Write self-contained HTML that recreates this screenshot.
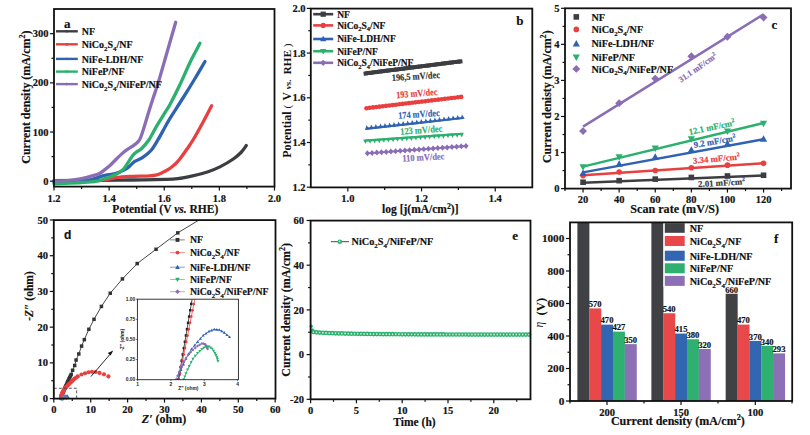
<!DOCTYPE html>
<html><head><meta charset="utf-8"><style>
html,body{margin:0;padding:0;background:#fff;width:810px;height:435px;overflow:hidden}
svg{display:block}
</style></head><body>
<svg width="810" height="435" viewBox="0 0 810 435">
<rect width="810" height="435" fill="#fff"/>
<path d="M54,180.6 C61.67,180.55 87.33,180.4 100,180.3 C112.67,180.2 119.2,180.15 130,180 C140.8,179.85 156.83,179.63 164.8,179.4 C172.77,179.17 173.17,179.2 177.8,178.6 C182.43,178 187.67,176.9 192.6,175.8 C197.53,174.7 202.77,173.53 207.4,172 C212.03,170.47 216.08,168.77 220.4,166.6 C224.72,164.43 229.87,161.35 233.3,159 C236.73,156.65 238.83,154.75 241,152.5 C243.17,150.25 245.42,146.67 246.3,145.5" fill="none" stroke="#3c3e42" stroke-width="3.3" stroke-linejoin="round" stroke-linecap="round" />
<path d="M103,179.9 C103.63,179.85 104.63,179.98 106.8,179.6 C108.97,179.22 112.13,178.13 116,177.6 C119.87,177.07 124.33,176.7 130,176.4 C135.67,176.1 145.4,176.1 150,175.8 C154.6,175.5 155.75,175.03 157.6,174.6 C159.45,174.17 159.78,173.8 161.1,173.2 C162.42,172.6 163.95,171.87 165.5,171 C167.05,170.13 168.82,169.12 170.4,168 C171.98,166.88 173.47,165.75 175,164.3 C176.53,162.85 177.6,161.85 179.6,159.3 C181.6,156.75 184.72,152.3 187,149 C189.28,145.7 190.58,144.05 193.3,139.5 C196.02,134.95 200.23,127.33 203.3,121.7 C206.37,116.07 210.3,108.37 211.7,105.7" fill="none" stroke="#e8403f" stroke-width="3.3" stroke-linejoin="round" stroke-linecap="round" />
<path d="M54,182.2 C58.33,182.1 73.67,182.05 80,181.6 C86.33,181.15 88.5,180.37 92,179.5 C95.5,178.63 98.35,177.18 101,176.4 C103.65,175.62 105.4,175.3 107.9,174.8 C110.4,174.3 113.5,174.1 116,173.4 C118.5,172.7 120.92,171.57 122.9,170.6 C124.88,169.63 125.92,169.13 127.9,167.6 C129.88,166.07 132.27,163.13 134.8,161.4 C137.33,159.67 140.33,159.1 143.1,157.2 C145.87,155.3 148.87,153 151.4,150 C153.93,147 156,143.07 158.3,139.2 C160.6,135.33 163.25,130.28 165.2,126.8 C167.15,123.32 166.98,123.18 170,118.3 C173.02,113.42 179.13,104.13 183.3,97.5 C187.47,90.87 191.38,84.5 195,78.5 C198.62,72.5 203.33,64.33 205,61.5" fill="none" stroke="#2f62b2" stroke-width="3.3" stroke-linejoin="round" stroke-linecap="round" />
<path d="M54,183.6 C56.67,183.53 64.47,183.45 70,183.2 C75.53,182.95 82.42,182.5 87.2,182.1 C91.98,181.7 95.82,181.38 98.7,180.8 C101.58,180.22 102.58,179.28 104.5,178.6 C106.42,177.92 107.9,177.6 110.2,176.7 C112.5,175.8 116,174.55 118.3,173.2 C120.6,171.85 122.47,170.23 124,168.6 C125.53,166.97 126.5,164.9 127.5,163.4 C128.5,161.9 129.02,161.07 130,159.6 C130.98,158.13 132.23,155.93 133.4,154.6 C134.57,153.27 135.62,152.62 137,151.6 C138.38,150.58 139.77,150.38 141.7,148.5 C143.63,146.62 146.3,143.68 148.6,140.3 C150.9,136.92 153.2,132.12 155.5,128.2 C157.8,124.28 160.55,119.83 162.4,116.8 C164.25,113.77 165.33,112.05 166.6,110 C167.87,107.95 167.77,108.75 170,104.5 C172.23,100.25 176.67,91.5 180,84.5 C183.33,77.5 186.67,69.37 190,62.5 C193.33,55.63 198.33,46.5 200,43.3" fill="none" stroke="#2bb06d" stroke-width="3.3" stroke-linejoin="round" stroke-linecap="round" />
<path d="M54,181 C56.67,180.88 65.42,180.7 70,180.3 C74.58,179.9 77.67,179.37 81.5,178.6 C85.33,177.83 89.93,176.6 93,175.7 C96.07,174.8 97.98,174.17 99.9,173.2 C101.82,172.23 102.78,171.23 104.5,169.9 C106.22,168.57 108.28,166.93 110.2,165.2 C112.12,163.47 114.08,161.38 116,159.5 C117.92,157.62 120.03,155.43 121.7,153.9 C123.37,152.37 124.5,151.4 126,150.3 C127.5,149.2 129,148.42 130.7,147.3 C132.4,146.18 134.7,144.9 136.2,143.6 C137.7,142.3 138.67,141.35 139.7,139.5 C140.73,137.65 141.37,135.55 142.4,132.5 C143.43,129.45 144.75,124.95 145.9,121.2 C147.05,117.45 148.12,113.78 149.3,110 C150.48,106.22 151.5,103.08 153,98.5 C154.5,93.92 156.02,90 158.3,82.5 C160.58,75 163.8,63.53 166.7,53.5 C169.6,43.47 174.2,27.5 175.7,22.3" fill="none" stroke="#8b6db5" stroke-width="3.3" stroke-linejoin="round" stroke-linecap="round" />
<rect x="54" y="9" width="220.5" height="177.6" fill="none" stroke="#111" stroke-width="1.8"/>
<line x1="50" y1="181.2" x2="54" y2="181.2" stroke="#111" stroke-width="1.2" />
<line x1="50" y1="132.03" x2="54" y2="132.03" stroke="#111" stroke-width="1.2" />
<line x1="50" y1="82.86" x2="54" y2="82.86" stroke="#111" stroke-width="1.2" />
<line x1="50" y1="33.69" x2="54" y2="33.69" stroke="#111" stroke-width="1.2" />
<line x1="51.5" y1="156.61" x2="54" y2="156.61" stroke="#111" stroke-width="1.2" />
<line x1="51.5" y1="107.44" x2="54" y2="107.44" stroke="#111" stroke-width="1.2" />
<line x1="51.5" y1="58.27" x2="54" y2="58.27" stroke="#111" stroke-width="1.2" />
<line x1="54" y1="186.6" x2="54" y2="190.6" stroke="#111" stroke-width="1.2" />
<line x1="109.12" y1="186.6" x2="109.12" y2="190.6" stroke="#111" stroke-width="1.2" />
<line x1="164.24" y1="186.6" x2="164.24" y2="190.6" stroke="#111" stroke-width="1.2" />
<line x1="219.36" y1="186.6" x2="219.36" y2="190.6" stroke="#111" stroke-width="1.2" />
<line x1="274.48" y1="186.6" x2="274.48" y2="190.6" stroke="#111" stroke-width="1.2" />
<line x1="81.56" y1="186.6" x2="81.56" y2="189.1" stroke="#111" stroke-width="1.2" />
<line x1="136.68" y1="186.6" x2="136.68" y2="189.1" stroke="#111" stroke-width="1.2" />
<line x1="191.8" y1="186.6" x2="191.8" y2="189.1" stroke="#111" stroke-width="1.2" />
<line x1="246.92" y1="186.6" x2="246.92" y2="189.1" stroke="#111" stroke-width="1.2" />
<text x="48.5" y="184.8" font-size="10.5" font-family='"Liberation Serif", serif' font-weight="bold" fill="#111" text-anchor="end"  stroke="#111" stroke-width="0.18">0</text>
<text x="48.5" y="135.63" font-size="10.5" font-family='"Liberation Serif", serif' font-weight="bold" fill="#111" text-anchor="end"  stroke="#111" stroke-width="0.18">100</text>
<text x="48.5" y="86.46" font-size="10.5" font-family='"Liberation Serif", serif' font-weight="bold" fill="#111" text-anchor="end"  stroke="#111" stroke-width="0.18">200</text>
<text x="48.5" y="37.29" font-size="10.5" font-family='"Liberation Serif", serif' font-weight="bold" fill="#111" text-anchor="end"  stroke="#111" stroke-width="0.18">300</text>
<text x="54" y="202.2" font-size="10.5" font-family='"Liberation Serif", serif' font-weight="bold" fill="#111" text-anchor="middle"  stroke="#111" stroke-width="0.18">1.2</text>
<text x="109.12" y="202.2" font-size="10.5" font-family='"Liberation Serif", serif' font-weight="bold" fill="#111" text-anchor="middle"  stroke="#111" stroke-width="0.18">1.4</text>
<text x="164.24" y="202.2" font-size="10.5" font-family='"Liberation Serif", serif' font-weight="bold" fill="#111" text-anchor="middle"  stroke="#111" stroke-width="0.18">1.6</text>
<text x="219.36" y="202.2" font-size="10.5" font-family='"Liberation Serif", serif' font-weight="bold" fill="#111" text-anchor="middle"  stroke="#111" stroke-width="0.18">1.8</text>
<text x="274.48" y="202.2" font-size="10.5" font-family='"Liberation Serif", serif' font-weight="bold" fill="#111" text-anchor="middle"  stroke="#111" stroke-width="0.18">2.0</text>
<text x="165.3" y="213.2" font-size="11.5" font-family='"Liberation Serif", serif' font-weight="bold" fill="#111" text-anchor="middle"  stroke="#111" stroke-width="0.18">Potential (V <tspan font-style="italic" font-weight="bold">vs.</tspan> RHE)</text>
<text x="29.8" y="97.1" font-size="11.95" font-family='"Liberation Serif", serif' font-weight="bold" fill="#111" text-anchor="middle" transform="rotate(-90 29.8 97.1)"  stroke="#111" stroke-width="0.18">Current density (mA/cm<tspan font-size="8.13" dy="-4.54">2</tspan><tspan dy="4.54">)</tspan></text>
<text x="64" y="28.3" font-size="13" font-family='"Liberation Serif", serif' font-weight="bold" fill="#111" text-anchor="start"  stroke="#111" stroke-width="0.18">a</text>
<line x1="56" y1="31.3" x2="77.8" y2="31.3" stroke="#3c3e42" stroke-width="2.4" />
<circle cx="66.8" cy="31.3" r="1.3" fill="#3c3e42"/>
<text x="81.8" y="34.9" font-size="10" font-family='"Liberation Serif", serif' font-weight="bold" fill="#111" text-anchor="start"  stroke="#111" stroke-width="0.18">NF</text>
<line x1="56" y1="44.3" x2="77.8" y2="44.3" stroke="#e8403f" stroke-width="2.4" />
<rect x="65.5" y="43" width="2.6" height="2.6" fill="#e8403f"/>
<text x="81.8" y="47.9" font-size="10" font-family='"Liberation Serif", serif' font-weight="bold" fill="#111" text-anchor="start"  stroke="#111" stroke-width="0.18">NiCo<tspan font-size="6.8" dy="2.8">2</tspan><tspan dy="-2.8">S</tspan><tspan font-size="6.8" dy="2.8">4</tspan><tspan dy="-2.8">/NF</tspan></text>
<line x1="56" y1="58.9" x2="77.8" y2="58.9" stroke="#2f62b2" stroke-width="2.4" />
<polygon points="66.8,57.22 65.24,60.02 68.36,60.02" fill="#2f62b2"/>
<text x="81.8" y="62.5" font-size="10" font-family='"Liberation Serif", serif' font-weight="bold" fill="#111" text-anchor="start"  stroke="#111" stroke-width="0.18">NiFe-LDH/NF</text>
<line x1="56" y1="71.6" x2="77.8" y2="71.6" stroke="#2bb06d" stroke-width="2.4" />
<polygon points="66.8,73.28 65.24,70.48 68.36,70.48" fill="#2bb06d"/>
<text x="81.8" y="75.2" font-size="10" font-family='"Liberation Serif", serif' font-weight="bold" fill="#111" text-anchor="start"  stroke="#111" stroke-width="0.18">NiFeP/NF</text>
<line x1="56" y1="84.1" x2="77.8" y2="84.1" stroke="#8b6db5" stroke-width="2.4" />
<polygon points="66.8,82.54 68.36,84.1 66.8,85.66 65.24,84.1" fill="#8b6db5"/>
<text x="81.8" y="87.7" font-size="10" font-family='"Liberation Serif", serif' font-weight="bold" fill="#111" text-anchor="start"  stroke="#111" stroke-width="0.18">NiCo<tspan font-size="6.8" dy="2.8">2</tspan><tspan dy="-2.8">S</tspan><tspan font-size="6.8" dy="2.8">4</tspan><tspan dy="-2.8">/NiFeP/NF</tspan></text>
<line x1="365.6" y1="73.4" x2="460.4" y2="61.4" stroke="#3c3e42" stroke-width="3.6" stroke-linecap="round"/>
<polygon points="363.36,71.67 367.33,71.16 367.84,75.13 363.87,75.64" fill="#3c3e42"/>
<polygon points="366.24,71.3 370.21,70.8 370.71,74.77 366.74,75.27" fill="#3c3e42"/>
<polygon points="369.11,70.94 373.08,70.44 373.58,74.41 369.61,74.91" fill="#3c3e42"/>
<polygon points="371.98,70.58 375.95,70.07 376.45,74.04 372.49,74.54" fill="#3c3e42"/>
<polygon points="374.86,70.21 378.82,69.71 379.33,73.68 375.36,74.18" fill="#3c3e42"/>
<polygon points="377.73,69.85 381.7,69.35 382.2,73.31 378.23,73.82" fill="#3c3e42"/>
<polygon points="380.6,69.49 384.57,68.98 385.07,72.95 381.1,73.45" fill="#3c3e42"/>
<polygon points="383.47,69.12 387.44,68.62 387.94,72.59 383.98,73.09" fill="#3c3e42"/>
<polygon points="386.35,68.76 390.31,68.26 390.82,72.22 386.85,72.73" fill="#3c3e42"/>
<polygon points="389.22,68.39 393.19,67.89 393.69,71.86 389.72,72.36" fill="#3c3e42"/>
<polygon points="392.09,68.03 396.06,67.53 396.56,71.5 392.59,72" fill="#3c3e42"/>
<polygon points="394.96,67.67 398.93,67.16 399.44,71.13 395.47,71.64" fill="#3c3e42"/>
<polygon points="397.84,67.3 401.81,66.8 402.31,70.77 398.34,71.27" fill="#3c3e42"/>
<polygon points="400.71,66.94 404.68,66.44 405.18,70.41 401.21,70.91" fill="#3c3e42"/>
<polygon points="403.58,66.58 407.55,66.07 408.05,70.04 404.09,70.54" fill="#3c3e42"/>
<polygon points="406.46,66.21 410.42,65.71 410.93,69.68 406.96,70.18" fill="#3c3e42"/>
<polygon points="409.33,65.85 413.3,65.35 413.8,69.31 409.83,69.82" fill="#3c3e42"/>
<polygon points="412.2,65.49 416.17,64.98 416.67,68.95 412.7,69.45" fill="#3c3e42"/>
<polygon points="415.07,65.12 419.04,64.62 419.54,68.59 415.58,69.09" fill="#3c3e42"/>
<polygon points="417.95,64.76 421.91,64.26 422.42,68.22 418.45,68.73" fill="#3c3e42"/>
<polygon points="420.82,64.39 424.79,63.89 425.29,67.86 421.32,68.36" fill="#3c3e42"/>
<polygon points="423.69,64.03 427.66,63.53 428.16,67.5 424.19,68" fill="#3c3e42"/>
<polygon points="426.56,63.67 430.53,63.16 431.04,67.13 427.07,67.64" fill="#3c3e42"/>
<polygon points="429.44,63.3 433.41,62.8 433.91,66.77 429.94,67.27" fill="#3c3e42"/>
<polygon points="432.31,62.94 436.28,62.44 436.78,66.41 432.81,66.91" fill="#3c3e42"/>
<polygon points="435.18,62.58 439.15,62.07 439.65,66.04 435.69,66.54" fill="#3c3e42"/>
<polygon points="438.06,62.21 442.02,61.71 442.53,65.68 438.56,66.18" fill="#3c3e42"/>
<polygon points="440.93,61.85 444.9,61.35 445.4,65.31 441.43,65.82" fill="#3c3e42"/>
<polygon points="443.8,61.49 447.77,60.98 448.27,64.95 444.3,65.45" fill="#3c3e42"/>
<polygon points="446.67,61.12 450.64,60.62 451.14,64.59 447.18,65.09" fill="#3c3e42"/>
<polygon points="449.55,60.76 453.51,60.26 454.02,64.22 450.05,64.73" fill="#3c3e42"/>
<polygon points="452.42,60.39 456.39,59.89 456.89,63.86 452.92,64.36" fill="#3c3e42"/>
<polygon points="455.29,60.03 459.26,59.53 459.76,63.5 455.79,64" fill="#3c3e42"/>
<polygon points="458.16,59.67 462.13,59.16 462.64,63.13 458.67,63.64" fill="#3c3e42"/>
<line x1="366.5" y1="108.2" x2="461.2" y2="96.9" stroke="#e8403f" stroke-width="2.6" stroke-linecap="round"/>
<circle cx="366.5" cy="108.2" r="2.3" fill="#e8403f"/>
<circle cx="369.77" cy="107.81" r="2.3" fill="#e8403f"/>
<circle cx="373.03" cy="107.42" r="2.3" fill="#e8403f"/>
<circle cx="376.3" cy="107.03" r="2.3" fill="#e8403f"/>
<circle cx="379.56" cy="106.64" r="2.3" fill="#e8403f"/>
<circle cx="382.83" cy="106.25" r="2.3" fill="#e8403f"/>
<circle cx="386.09" cy="105.86" r="2.3" fill="#e8403f"/>
<circle cx="389.36" cy="105.47" r="2.3" fill="#e8403f"/>
<circle cx="392.62" cy="105.08" r="2.3" fill="#e8403f"/>
<circle cx="395.89" cy="104.69" r="2.3" fill="#e8403f"/>
<circle cx="399.16" cy="104.3" r="2.3" fill="#e8403f"/>
<circle cx="402.42" cy="103.91" r="2.3" fill="#e8403f"/>
<circle cx="405.69" cy="103.52" r="2.3" fill="#e8403f"/>
<circle cx="408.95" cy="103.13" r="2.3" fill="#e8403f"/>
<circle cx="412.22" cy="102.74" r="2.3" fill="#e8403f"/>
<circle cx="415.48" cy="102.36" r="2.3" fill="#e8403f"/>
<circle cx="418.75" cy="101.97" r="2.3" fill="#e8403f"/>
<circle cx="422.01" cy="101.58" r="2.3" fill="#e8403f"/>
<circle cx="425.28" cy="101.19" r="2.3" fill="#e8403f"/>
<circle cx="428.54" cy="100.8" r="2.3" fill="#e8403f"/>
<circle cx="431.81" cy="100.41" r="2.3" fill="#e8403f"/>
<circle cx="435.08" cy="100.02" r="2.3" fill="#e8403f"/>
<circle cx="438.34" cy="99.63" r="2.3" fill="#e8403f"/>
<circle cx="441.61" cy="99.24" r="2.3" fill="#e8403f"/>
<circle cx="444.87" cy="98.85" r="2.3" fill="#e8403f"/>
<circle cx="448.14" cy="98.46" r="2.3" fill="#e8403f"/>
<circle cx="451.4" cy="98.07" r="2.3" fill="#e8403f"/>
<circle cx="454.67" cy="97.68" r="2.3" fill="#e8403f"/>
<circle cx="457.93" cy="97.29" r="2.3" fill="#e8403f"/>
<circle cx="461.2" cy="96.9" r="2.3" fill="#e8403f"/>
<line x1="367" y1="128.6" x2="462.4" y2="118" stroke="#2f62b2" stroke-width="2.2" stroke-linecap="round"/>
<polygon points="366.61,125.12 369.31,129.45 364.93,129.94" fill="#2f62b2"/>
<polygon points="371.16,124.62 373.85,128.95 369.48,129.43" fill="#2f62b2"/>
<polygon points="375.7,124.11 378.39,128.44 374.02,128.93" fill="#2f62b2"/>
<polygon points="380.24,123.61 382.94,127.94 378.56,128.42" fill="#2f62b2"/>
<polygon points="384.78,123.1 387.48,127.43 383.11,127.92" fill="#2f62b2"/>
<polygon points="389.33,122.6 392.02,126.93 387.65,127.41" fill="#2f62b2"/>
<polygon points="393.87,122.09 396.57,126.42 392.19,126.91" fill="#2f62b2"/>
<polygon points="398.41,121.59 401.11,125.92 396.73,126.4" fill="#2f62b2"/>
<polygon points="402.96,121.08 405.65,125.41 401.28,125.9" fill="#2f62b2"/>
<polygon points="407.5,120.58 410.19,124.91 405.82,125.39" fill="#2f62b2"/>
<polygon points="412.04,120.07 414.74,124.4 410.36,124.89" fill="#2f62b2"/>
<polygon points="416.58,119.57 419.28,123.9 414.91,124.38" fill="#2f62b2"/>
<polygon points="421.13,119.06 423.82,123.39 419.45,123.88" fill="#2f62b2"/>
<polygon points="425.67,118.56 428.37,122.89 423.99,123.37" fill="#2f62b2"/>
<polygon points="430.21,118.05 432.91,122.38 428.53,122.87" fill="#2f62b2"/>
<polygon points="434.76,117.55 437.45,121.88 433.08,122.36" fill="#2f62b2"/>
<polygon points="439.3,117.05 441.99,121.37 437.62,121.86" fill="#2f62b2"/>
<polygon points="443.84,116.54 446.54,120.87 442.16,121.36" fill="#2f62b2"/>
<polygon points="448.38,116.04 451.08,120.36 446.71,120.85" fill="#2f62b2"/>
<polygon points="452.93,115.53 455.62,119.86 451.25,120.35" fill="#2f62b2"/>
<polygon points="457.47,115.03 460.17,119.36 455.79,119.84" fill="#2f62b2"/>
<polygon points="462.01,114.52 464.71,118.85 460.33,119.34" fill="#2f62b2"/>
<line x1="365.4" y1="140.6" x2="461.6" y2="133.9" stroke="#2bb06d" stroke-width="2.2" stroke-linecap="round"/>
<polygon points="365.64,144.09 367.52,139.35 363.13,139.66" fill="#2bb06d"/>
<polygon points="370.22,143.77 372.1,139.03 367.71,139.34" fill="#2bb06d"/>
<polygon points="374.81,143.45 376.68,138.71 372.29,139.02" fill="#2bb06d"/>
<polygon points="379.39,143.13 381.26,138.39 376.87,138.7" fill="#2bb06d"/>
<polygon points="383.97,142.82 385.84,138.07 381.45,138.38" fill="#2bb06d"/>
<polygon points="388.55,142.5 390.42,137.75 386.03,138.06" fill="#2bb06d"/>
<polygon points="393.13,142.18 395,137.44 390.61,137.74" fill="#2bb06d"/>
<polygon points="397.71,141.86 399.58,137.12 395.2,137.42" fill="#2bb06d"/>
<polygon points="402.29,141.54 404.17,136.8 399.78,137.1" fill="#2bb06d"/>
<polygon points="406.87,141.22 408.75,136.48 404.36,136.78" fill="#2bb06d"/>
<polygon points="411.45,140.9 413.33,136.16 408.94,136.47" fill="#2bb06d"/>
<polygon points="416.03,140.58 417.91,135.84 413.52,136.15" fill="#2bb06d"/>
<polygon points="420.61,140.26 422.49,135.52 418.1,135.83" fill="#2bb06d"/>
<polygon points="425.2,139.94 427.07,135.2 422.68,135.51" fill="#2bb06d"/>
<polygon points="429.78,139.62 431.65,134.88 427.26,135.19" fill="#2bb06d"/>
<polygon points="434.36,139.31 436.23,134.56 431.84,134.87" fill="#2bb06d"/>
<polygon points="438.94,138.99 440.81,134.25 436.42,134.55" fill="#2bb06d"/>
<polygon points="443.52,138.67 445.39,133.93 441.01,134.23" fill="#2bb06d"/>
<polygon points="448.1,138.35 449.98,133.61 445.59,133.91" fill="#2bb06d"/>
<polygon points="452.68,138.03 454.56,133.29 450.17,133.59" fill="#2bb06d"/>
<polygon points="457.26,137.71 459.14,132.97 454.75,133.27" fill="#2bb06d"/>
<polygon points="461.84,137.39 463.72,132.65 459.33,132.96" fill="#2bb06d"/>
<line x1="367.4" y1="153.3" x2="466" y2="146" stroke="#8b6db5" stroke-width="1.8" stroke-linecap="round"/>
<polygon points="367.18,150.31 369.99,153.11 367.62,156.29 364.81,153.49" fill="#8b6db5"/>
<polygon points="371.87,149.96 374.69,152.76 372.32,155.94 369.5,153.14" fill="#8b6db5"/>
<polygon points="376.57,149.61 379.38,152.41 377.01,155.6 374.2,152.8" fill="#8b6db5"/>
<polygon points="381.26,149.27 384.08,152.07 381.71,155.25 378.89,152.45" fill="#8b6db5"/>
<polygon points="385.96,148.92 388.77,151.72 386.4,154.9 383.59,152.1" fill="#8b6db5"/>
<polygon points="390.65,148.57 393.47,151.37 391.1,154.55 388.28,151.75" fill="#8b6db5"/>
<polygon points="395.35,148.22 398.16,151.02 395.79,154.21 392.98,151.41" fill="#8b6db5"/>
<polygon points="400.05,147.87 402.86,150.67 400.49,153.86 397.67,151.06" fill="#8b6db5"/>
<polygon points="404.74,147.53 407.55,150.33 405.18,153.51 402.37,150.71" fill="#8b6db5"/>
<polygon points="409.44,147.18 412.25,149.98 409.88,153.16 407.06,150.36" fill="#8b6db5"/>
<polygon points="414.13,146.83 416.95,149.63 414.57,152.82 411.76,150.02" fill="#8b6db5"/>
<polygon points="418.83,146.48 421.64,149.28 419.27,152.47 416.45,149.67" fill="#8b6db5"/>
<polygon points="423.52,146.14 426.34,148.94 423.96,152.12 421.15,149.32" fill="#8b6db5"/>
<polygon points="428.22,145.79 431.03,148.59 428.66,151.77 425.85,148.97" fill="#8b6db5"/>
<polygon points="432.91,145.44 435.73,148.24 433.35,151.43 430.54,148.63" fill="#8b6db5"/>
<polygon points="437.61,145.09 440.42,147.89 438.05,151.08 435.24,148.28" fill="#8b6db5"/>
<polygon points="442.3,144.75 445.12,147.55 442.75,150.73 439.93,147.93" fill="#8b6db5"/>
<polygon points="447,144.4 449.81,147.2 447.44,150.38 444.63,147.58" fill="#8b6db5"/>
<polygon points="451.69,144.05 454.51,146.85 452.14,150.03 449.32,147.23" fill="#8b6db5"/>
<polygon points="456.39,143.7 459.2,146.5 456.83,149.69 454.02,146.89" fill="#8b6db5"/>
<polygon points="461.08,143.36 463.9,146.16 461.53,149.34 458.71,146.54" fill="#8b6db5"/>
<polygon points="465.78,143.01 468.59,145.81 466.22,148.99 463.41,146.19" fill="#8b6db5"/>
<rect x="310.8" y="8.6" width="221.5" height="178.8" fill="none" stroke="#111" stroke-width="1.8"/>
<line x1="306.8" y1="187.2" x2="310.8" y2="187.2" stroke="#111" stroke-width="1.2" />
<line x1="306.8" y1="142.5" x2="310.8" y2="142.5" stroke="#111" stroke-width="1.2" />
<line x1="306.8" y1="97.8" x2="310.8" y2="97.8" stroke="#111" stroke-width="1.2" />
<line x1="306.8" y1="53.1" x2="310.8" y2="53.1" stroke="#111" stroke-width="1.2" />
<line x1="306.8" y1="8.4" x2="310.8" y2="8.4" stroke="#111" stroke-width="1.2" />
<line x1="308.3" y1="164.85" x2="310.8" y2="164.85" stroke="#111" stroke-width="1.2" />
<line x1="308.3" y1="120.15" x2="310.8" y2="120.15" stroke="#111" stroke-width="1.2" />
<line x1="308.3" y1="75.45" x2="310.8" y2="75.45" stroke="#111" stroke-width="1.2" />
<line x1="308.3" y1="30.75" x2="310.8" y2="30.75" stroke="#111" stroke-width="1.2" />
<line x1="347.85" y1="187.4" x2="347.85" y2="191.4" stroke="#111" stroke-width="1.2" />
<line x1="421.55" y1="187.4" x2="421.55" y2="191.4" stroke="#111" stroke-width="1.2" />
<line x1="495.25" y1="187.4" x2="495.25" y2="191.4" stroke="#111" stroke-width="1.2" />
<line x1="384.7" y1="187.4" x2="384.7" y2="189.9" stroke="#111" stroke-width="1.2" />
<line x1="458.4" y1="187.4" x2="458.4" y2="189.9" stroke="#111" stroke-width="1.2" />
<text x="305.5" y="190.8" font-size="10.5" font-family='"Liberation Serif", serif' font-weight="bold" fill="#111" text-anchor="end"  stroke="#111" stroke-width="0.18">1.2</text>
<text x="305.5" y="146.1" font-size="10.5" font-family='"Liberation Serif", serif' font-weight="bold" fill="#111" text-anchor="end"  stroke="#111" stroke-width="0.18">1.4</text>
<text x="305.5" y="101.4" font-size="10.5" font-family='"Liberation Serif", serif' font-weight="bold" fill="#111" text-anchor="end"  stroke="#111" stroke-width="0.18">1.6</text>
<text x="305.5" y="56.7" font-size="10.5" font-family='"Liberation Serif", serif' font-weight="bold" fill="#111" text-anchor="end"  stroke="#111" stroke-width="0.18">1.8</text>
<text x="305.5" y="12" font-size="10.5" font-family='"Liberation Serif", serif' font-weight="bold" fill="#111" text-anchor="end"  stroke="#111" stroke-width="0.18">2.0</text>
<text x="347.85" y="201.7" font-size="10.5" font-family='"Liberation Serif", serif' font-weight="bold" fill="#111" text-anchor="middle"  stroke="#111" stroke-width="0.18">1.0</text>
<text x="421.55" y="201.7" font-size="10.5" font-family='"Liberation Serif", serif' font-weight="bold" fill="#111" text-anchor="middle"  stroke="#111" stroke-width="0.18">1.2</text>
<text x="495.25" y="201.7" font-size="10.5" font-family='"Liberation Serif", serif' font-weight="bold" fill="#111" text-anchor="middle"  stroke="#111" stroke-width="0.18">1.4</text>
<text x="420.3" y="213.2" font-size="11.5" font-family='"Liberation Serif", serif' font-weight="bold" fill="#111" text-anchor="middle"  stroke="#111" stroke-width="0.18">log [j(mA/cm<tspan font-size="7.82" dy="-4.37">2</tspan><tspan dy="4.37">)]</tspan></text>
<g transform="rotate(-90 291.3 0)">
<text x="133.5" y="0" font-size="12.1" font-family='"Liberation Serif", serif' font-weight="bold" font-style="normal" fill="#111">Potential</text>
<text x="182.7" y="0" font-size="11" font-family='"Liberation Serif", serif' font-weight="normal" font-style="normal" fill="#111">(</text>
<text x="190.9" y="0" font-size="11.5" font-family='"Liberation Serif", serif' font-weight="bold" font-style="normal" fill="#111">V</text>
<text x="202.1" y="0" font-size="9.2" font-family='"Liberation Serif", serif' font-weight="bold" font-style="italic" fill="#111">vs.</text>
<text x="216.7" y="0" font-size="11.4" font-family='"Liberation Serif", serif' font-weight="bold" font-style="normal" fill="#111">RHE</text>
<text x="244" y="0" font-size="11" font-family='"Liberation Serif", serif' font-weight="normal" font-style="normal" fill="#111">)</text>
</g>
<text x="516.3" y="25.2" font-size="13" font-family='"Liberation Serif", serif' font-weight="bold" fill="#111" text-anchor="start"  stroke="#111" stroke-width="0.18">b</text>
<line x1="313.2" y1="14.2" x2="333.2" y2="14.2" stroke="#3c3e42" stroke-width="2.6" />
<rect x="320.6" y="11.6" width="5.2" height="5.2" fill="#3c3e42"/>
<text x="337.2" y="17.6" font-size="9.5" font-family='"Liberation Serif", serif' font-weight="bold" fill="#111" text-anchor="start"  stroke="#111" stroke-width="0.18">NF</text>
<line x1="313.2" y1="25.4" x2="333.2" y2="25.4" stroke="#e8403f" stroke-width="2.6" />
<circle cx="323.2" cy="25.4" r="2.6" fill="#e8403f"/>
<text x="337.2" y="28.8" font-size="9.5" font-family='"Liberation Serif", serif' font-weight="bold" fill="#111" text-anchor="start"  stroke="#111" stroke-width="0.18">NiCo<tspan font-size="6.46" dy="2.66">2</tspan><tspan dy="-2.66">S</tspan><tspan font-size="6.46" dy="2.66">4</tspan><tspan dy="-2.66">/NF</tspan></text>
<line x1="313.2" y1="39" x2="333.2" y2="39" stroke="#2f62b2" stroke-width="2.6" />
<polygon points="323.2,35.63 320.08,41.25 326.32,41.25" fill="#2f62b2"/>
<text x="337.2" y="42.4" font-size="9.5" font-family='"Liberation Serif", serif' font-weight="bold" fill="#111" text-anchor="start"  stroke="#111" stroke-width="0.18">NiFe-LDH/NF</text>
<line x1="313.2" y1="51.2" x2="333.2" y2="51.2" stroke="#2bb06d" stroke-width="2.6" />
<polygon points="323.2,54.57 320.08,48.95 326.32,48.95" fill="#2bb06d"/>
<text x="337.2" y="54.6" font-size="9.5" font-family='"Liberation Serif", serif' font-weight="bold" fill="#111" text-anchor="start"  stroke="#111" stroke-width="0.18">NiFeP/NF</text>
<line x1="313.2" y1="62.8" x2="333.2" y2="62.8" stroke="#8b6db5" stroke-width="2.6" />
<polygon points="323.2,59.68 326.32,62.8 323.2,65.92 320.08,62.8" fill="#8b6db5"/>
<text x="337.2" y="66.2" font-size="9.5" font-family='"Liberation Serif", serif' font-weight="bold" fill="#111" text-anchor="start"  stroke="#111" stroke-width="0.18">NiCo<tspan font-size="6.46" dy="2.66">2</tspan><tspan dy="-2.66">S</tspan><tspan font-size="6.46" dy="2.66">4</tspan><tspan dy="-2.66">/NiFeP/NF</tspan></text>
<text x="392" y="81" font-size="9.6" font-family='"Liberation Serif", serif' font-weight="bold" fill="#333" text-anchor="start" transform="rotate(-3.7 392 81)" textLength="48.2" lengthAdjust="spacingAndGlyphs" stroke="#333" stroke-width="0.18">196,5 mV/dec</text>
<text x="396.4" y="98.2" font-size="9.6" font-family='"Liberation Serif", serif' font-weight="bold" fill="#e8403f" text-anchor="start" transform="rotate(-4.6 396.4 98.2)" textLength="41.3" lengthAdjust="spacingAndGlyphs" stroke="#e8403f" stroke-width="0.18">193 mV/dec</text>
<text x="398.4" y="118.8" font-size="9.6" font-family='"Liberation Serif", serif' font-weight="bold" fill="#2f62b2" text-anchor="start" transform="rotate(-4 398.4 118.8)" textLength="41.5" lengthAdjust="spacingAndGlyphs" stroke="#2f62b2" stroke-width="0.18">174 mV/dec</text>
<text x="400.5" y="134.7" font-size="9.6" font-family='"Liberation Serif", serif' font-weight="bold" fill="#2bb06d" text-anchor="start" transform="rotate(-4 400.5 134.7)" textLength="42.1" lengthAdjust="spacingAndGlyphs" stroke="#2bb06d" stroke-width="0.18">123 mV/dec</text>
<text x="402.5" y="161.6" font-size="9.6" font-family='"Liberation Serif", serif' font-weight="bold" fill="#8b6db5" text-anchor="start" transform="rotate(-3 402.5 161.6)" textLength="42.2" lengthAdjust="spacingAndGlyphs" stroke="#8b6db5" stroke-width="0.18">110 mV/dec</text>
<line x1="583.05" y1="182.65" x2="763.55" y2="175.4" stroke="#3c3e42" stroke-width="2.5" />
<rect x="580.25" y="179.42" width="5.6" height="5.6" fill="#3c3e42"/>
<rect x="616.35" y="177.87" width="5.6" height="5.6" fill="#3c3e42"/>
<rect x="652.45" y="176.32" width="5.6" height="5.6" fill="#3c3e42"/>
<rect x="688.55" y="174.62" width="5.6" height="5.6" fill="#3c3e42"/>
<rect x="724.65" y="173.18" width="5.6" height="5.6" fill="#3c3e42"/>
<rect x="760.75" y="172.46" width="5.6" height="5.6" fill="#3c3e42"/>
<line x1="583.05" y1="175.26" x2="763.55" y2="163.21" stroke="#e8403f" stroke-width="2.5" />
<circle cx="583.05" cy="175.62" r="2.8" fill="#e8403f"/>
<circle cx="619.15" cy="172.01" r="2.8" fill="#e8403f"/>
<circle cx="655.25" cy="170.57" r="2.8" fill="#e8403f"/>
<circle cx="691.35" cy="167.69" r="2.8" fill="#e8403f"/>
<circle cx="727.45" cy="165.16" r="2.8" fill="#e8403f"/>
<circle cx="763.55" cy="163.36" r="2.8" fill="#e8403f"/>
<line x1="583.05" y1="172.37" x2="763.55" y2="139.2" stroke="#2f62b2" stroke-width="2.5" />
<polygon points="583.05,169.57 579.45,176.05 586.65,176.05" fill="#2f62b2"/>
<polygon points="619.15,160.19 615.55,166.67 622.75,166.67" fill="#2f62b2"/>
<polygon points="655.25,153.34 651.65,159.82 658.85,159.82" fill="#2f62b2"/>
<polygon points="691.35,146.13 687.75,152.61 694.95,152.61" fill="#2f62b2"/>
<polygon points="727.45,140 723.85,146.48 731.05,146.48" fill="#2f62b2"/>
<polygon points="763.55,135.31 759.95,141.79 767.15,141.79" fill="#2f62b2"/>
<line x1="583.05" y1="166.6" x2="763.55" y2="122.97" stroke="#2bb06d" stroke-width="2.5" />
<polygon points="583.05,170.85 579.45,164.37 586.65,164.37" fill="#2bb06d"/>
<polygon points="619.15,160.76 615.55,154.28 622.75,154.28" fill="#2bb06d"/>
<polygon points="655.25,152.1 651.65,145.62 658.85,145.62" fill="#2bb06d"/>
<polygon points="691.35,142.73 687.75,136.25 694.95,136.25" fill="#2bb06d"/>
<polygon points="727.45,134.97 723.85,128.49 731.05,128.49" fill="#2bb06d"/>
<polygon points="763.55,127.22 759.95,120.74 767.15,120.74" fill="#2bb06d"/>
<line x1="583.05" y1="126.58" x2="763.55" y2="14.43" stroke="#8b6db5" stroke-width="2.5" />
<polygon points="583.05,127.16 587.01,131.12 583.05,135.08 579.09,131.12" fill="#8b6db5"/>
<polygon points="619.15,99.18 623.11,103.14 619.15,107.1 615.19,103.14" fill="#8b6db5"/>
<polygon points="655.25,74.66 659.21,78.62 655.25,82.58 651.29,78.62" fill="#8b6db5"/>
<polygon points="691.35,52.3 695.31,56.26 691.35,60.22 687.39,56.26" fill="#8b6db5"/>
<polygon points="727.45,32.83 731.41,36.79 727.45,40.75 723.49,36.79" fill="#8b6db5"/>
<polygon points="763.55,13.54 767.51,17.5 763.55,21.46 759.59,17.5" fill="#8b6db5"/>
<rect x="565" y="8.3" width="226" height="180.3" fill="none" stroke="#111" stroke-width="1.8"/>
<line x1="561" y1="188.6" x2="565" y2="188.6" stroke="#111" stroke-width="1.2" />
<line x1="561" y1="152.54" x2="565" y2="152.54" stroke="#111" stroke-width="1.2" />
<line x1="561" y1="116.48" x2="565" y2="116.48" stroke="#111" stroke-width="1.2" />
<line x1="561" y1="80.42" x2="565" y2="80.42" stroke="#111" stroke-width="1.2" />
<line x1="561" y1="44.36" x2="565" y2="44.36" stroke="#111" stroke-width="1.2" />
<line x1="561" y1="8.3" x2="565" y2="8.3" stroke="#111" stroke-width="1.2" />
<line x1="562.5" y1="170.57" x2="565" y2="170.57" stroke="#111" stroke-width="1.2" />
<line x1="562.5" y1="134.51" x2="565" y2="134.51" stroke="#111" stroke-width="1.2" />
<line x1="562.5" y1="98.45" x2="565" y2="98.45" stroke="#111" stroke-width="1.2" />
<line x1="562.5" y1="62.39" x2="565" y2="62.39" stroke="#111" stroke-width="1.2" />
<line x1="562.5" y1="26.33" x2="565" y2="26.33" stroke="#111" stroke-width="1.2" />
<line x1="583.05" y1="188.6" x2="583.05" y2="192.6" stroke="#111" stroke-width="1.2" />
<line x1="619.15" y1="188.6" x2="619.15" y2="192.6" stroke="#111" stroke-width="1.2" />
<line x1="655.25" y1="188.6" x2="655.25" y2="192.6" stroke="#111" stroke-width="1.2" />
<line x1="691.35" y1="188.6" x2="691.35" y2="192.6" stroke="#111" stroke-width="1.2" />
<line x1="727.45" y1="188.6" x2="727.45" y2="192.6" stroke="#111" stroke-width="1.2" />
<line x1="763.55" y1="188.6" x2="763.55" y2="192.6" stroke="#111" stroke-width="1.2" />
<line x1="565" y1="188.6" x2="565" y2="191.1" stroke="#111" stroke-width="1.2" />
<line x1="601.1" y1="188.6" x2="601.1" y2="191.1" stroke="#111" stroke-width="1.2" />
<line x1="637.2" y1="188.6" x2="637.2" y2="191.1" stroke="#111" stroke-width="1.2" />
<line x1="673.3" y1="188.6" x2="673.3" y2="191.1" stroke="#111" stroke-width="1.2" />
<line x1="709.4" y1="188.6" x2="709.4" y2="191.1" stroke="#111" stroke-width="1.2" />
<line x1="745.5" y1="188.6" x2="745.5" y2="191.1" stroke="#111" stroke-width="1.2" />
<line x1="781.6" y1="188.6" x2="781.6" y2="191.1" stroke="#111" stroke-width="1.2" />
<text x="559.5" y="192.2" font-size="10.5" font-family='"Liberation Serif", serif' font-weight="bold" fill="#111" text-anchor="end"  stroke="#111" stroke-width="0.18">0</text>
<text x="559.5" y="156.14" font-size="10.5" font-family='"Liberation Serif", serif' font-weight="bold" fill="#111" text-anchor="end"  stroke="#111" stroke-width="0.18">1</text>
<text x="559.5" y="120.08" font-size="10.5" font-family='"Liberation Serif", serif' font-weight="bold" fill="#111" text-anchor="end"  stroke="#111" stroke-width="0.18">2</text>
<text x="559.5" y="84.02" font-size="10.5" font-family='"Liberation Serif", serif' font-weight="bold" fill="#111" text-anchor="end"  stroke="#111" stroke-width="0.18">3</text>
<text x="559.5" y="47.96" font-size="10.5" font-family='"Liberation Serif", serif' font-weight="bold" fill="#111" text-anchor="end"  stroke="#111" stroke-width="0.18">4</text>
<text x="559.5" y="11.9" font-size="10.5" font-family='"Liberation Serif", serif' font-weight="bold" fill="#111" text-anchor="end"  stroke="#111" stroke-width="0.18">5</text>
<text x="583.05" y="203" font-size="10.5" font-family='"Liberation Serif", serif' font-weight="bold" fill="#111" text-anchor="middle"  stroke="#111" stroke-width="0.18">20</text>
<text x="619.15" y="203" font-size="10.5" font-family='"Liberation Serif", serif' font-weight="bold" fill="#111" text-anchor="middle"  stroke="#111" stroke-width="0.18">40</text>
<text x="655.25" y="203" font-size="10.5" font-family='"Liberation Serif", serif' font-weight="bold" fill="#111" text-anchor="middle"  stroke="#111" stroke-width="0.18">60</text>
<text x="691.35" y="203" font-size="10.5" font-family='"Liberation Serif", serif' font-weight="bold" fill="#111" text-anchor="middle"  stroke="#111" stroke-width="0.18">80</text>
<text x="727.45" y="203" font-size="10.5" font-family='"Liberation Serif", serif' font-weight="bold" fill="#111" text-anchor="middle"  stroke="#111" stroke-width="0.18">100</text>
<text x="763.55" y="203" font-size="10.5" font-family='"Liberation Serif", serif' font-weight="bold" fill="#111" text-anchor="middle"  stroke="#111" stroke-width="0.18">120</text>
<text x="674.7" y="213" font-size="12.1" font-family='"Liberation Serif", serif' font-weight="bold" fill="#111" text-anchor="middle"  stroke="#111" stroke-width="0.18">Scan rate (mV/S)</text>
<text x="550.8" y="96.7" font-size="11.9" font-family='"Liberation Serif", serif' font-weight="bold" fill="#111" text-anchor="middle" transform="rotate(-90 550.8 96.7)"  stroke="#111" stroke-width="0.18">Current denisty (mA/cm<tspan font-size="8.09" dy="-4.52">2</tspan><tspan dy="4.52">)</tspan></text>
<text x="771.6" y="29.2" font-size="13" font-family='"Liberation Serif", serif' font-weight="bold" fill="#111" text-anchor="start"  stroke="#111" stroke-width="0.18">c</text>
<rect x="573.5" y="14.1" width="5.6" height="5.6" fill="#3c3e42"/>
<text x="591.5" y="20.5" font-size="10.2" font-family='"Liberation Serif", serif' font-weight="bold" fill="#111" text-anchor="start"  stroke="#111" stroke-width="0.18">NF</text>
<circle cx="576.3" cy="29.4" r="2.8" fill="#e8403f"/>
<text x="591.5" y="33" font-size="10.2" font-family='"Liberation Serif", serif' font-weight="bold" fill="#111" text-anchor="start"  stroke="#111" stroke-width="0.18">NiCo<tspan font-size="6.94" dy="2.86">2</tspan><tspan dy="-2.86">S</tspan><tspan font-size="6.94" dy="2.86">4</tspan><tspan dy="-2.86">/NF</tspan></text>
<polygon points="576.3,39.91 572.7,46.39 579.9,46.39" fill="#2f62b2"/>
<text x="591.5" y="47.4" font-size="10.2" font-family='"Liberation Serif", serif' font-weight="bold" fill="#111" text-anchor="start"  stroke="#111" stroke-width="0.18">NiFe-LDH/NF</text>
<polygon points="576.3,60.89 572.7,54.41 579.9,54.41" fill="#2bb06d"/>
<text x="591.5" y="60.6" font-size="10.2" font-family='"Liberation Serif", serif' font-weight="bold" fill="#111" text-anchor="start"  stroke="#111" stroke-width="0.18">NiFeP/NF</text>
<polygon points="576.3,64.94 580.26,68.9 576.3,72.86 572.34,68.9" fill="#8b6db5"/>
<text x="591.5" y="72.5" font-size="10.2" font-family='"Liberation Serif", serif' font-weight="bold" fill="#111" text-anchor="start"  stroke="#111" stroke-width="0.18">NiCo<tspan font-size="6.94" dy="2.86">2</tspan><tspan dy="-2.86">S</tspan><tspan font-size="6.94" dy="2.86">4</tspan><tspan dy="-2.86">/NiFeP/NF</tspan></text>
<text x="681" y="82.8" font-size="8.4" font-family='"Liberation Serif", serif' font-weight="bold" fill="#8b6db5" text-anchor="start" transform="rotate(-35 681 82.8)"  stroke="#8b6db5" stroke-width="0.18">31.1 mF/cm<tspan font-size="5.71" dy="-3.19">2</tspan><tspan dy="3.19"></tspan></text>
<text x="689.5" y="135" font-size="8.8" font-family='"Liberation Serif", serif' font-weight="bold" fill="#2bb06d" text-anchor="start" transform="rotate(-12 689.5 135)"  stroke="#2bb06d" stroke-width="0.18">12.1 mF/cm<tspan font-size="5.98" dy="-3.34">2</tspan><tspan dy="3.34"></tspan></text>
<text x="694.3" y="148" font-size="8.8" font-family='"Liberation Serif", serif' font-weight="bold" fill="#2f62b2" text-anchor="start" transform="rotate(-10 694.3 148)"  stroke="#2f62b2" stroke-width="0.18">9.2 mF/cm<tspan font-size="5.98" dy="-3.34">2</tspan><tspan dy="3.34"></tspan></text>
<text x="693.3" y="163.7" font-size="8.8" font-family='"Liberation Serif", serif' font-weight="bold" fill="#e8403f" text-anchor="start" transform="rotate(-5 693.3 163.7)"  stroke="#e8403f" stroke-width="0.18">3.34 mF/cm<tspan font-size="5.98" dy="-3.34">2</tspan><tspan dy="3.34"></tspan></text>
<text x="698.3" y="187" font-size="8.8" font-family='"Liberation Serif", serif' font-weight="bold" fill="#3a3a3a" text-anchor="start" transform="rotate(-3 698.3 187)"  stroke="#3a3a3a" stroke-width="0.18">2.01 mF/cm<tspan font-size="5.98" dy="-3.34">2</tspan><tspan dy="3.34"></tspan></text>
<clipPath id="dc"><rect x="53.8" y="220.1" width="221.7" height="178.5"/></clipPath>
<polyline points="60.81,397.53 61.27,396.46 61.73,395.39 62.19,394.31 62.66,393.24 63.21,391.99 63.76,390.74 64.32,389.49 64.87,388.24 65.42,386.99 65.98,385.74 66.62,384.31 67.27,382.88 67.82,381.63 68.38,380.38 69.02,378.95 69.67,377.53 70.42,376.01 71.18,374.49 72.62,370.27 74.69,365.49 76.09,360.02 78.82,353.95 81.59,346.09 84.32,339.66 88.85,329.3 94.02,319.3 101.4,306.44 110.26,293.23 122.43,278.94 137.19,263.58 156.01,249.29 177.78,232.86 206,215.8" fill="none" stroke="#333" stroke-width="0.9" stroke-linejoin="round" stroke-linecap="round" clip-path="url(#dc)"/>
<rect x="59.06" y="395.78" width="3.5" height="3.5" fill="#333"/>
<rect x="59.52" y="394.71" width="3.5" height="3.5" fill="#333"/>
<rect x="59.98" y="393.64" width="3.5" height="3.5" fill="#333"/>
<rect x="60.44" y="392.56" width="3.5" height="3.5" fill="#333"/>
<rect x="60.91" y="391.49" width="3.5" height="3.5" fill="#333"/>
<rect x="61.46" y="390.24" width="3.5" height="3.5" fill="#333"/>
<rect x="62.01" y="388.99" width="3.5" height="3.5" fill="#333"/>
<rect x="62.57" y="387.74" width="3.5" height="3.5" fill="#333"/>
<rect x="63.12" y="386.49" width="3.5" height="3.5" fill="#333"/>
<rect x="63.67" y="385.24" width="3.5" height="3.5" fill="#333"/>
<rect x="64.23" y="383.99" width="3.5" height="3.5" fill="#333"/>
<rect x="64.87" y="382.56" width="3.5" height="3.5" fill="#333"/>
<rect x="65.52" y="381.13" width="3.5" height="3.5" fill="#333"/>
<rect x="66.07" y="379.88" width="3.5" height="3.5" fill="#333"/>
<rect x="66.63" y="378.63" width="3.5" height="3.5" fill="#333"/>
<rect x="67.27" y="377.2" width="3.5" height="3.5" fill="#333"/>
<rect x="67.92" y="375.78" width="3.5" height="3.5" fill="#333"/>
<rect x="68.67" y="374.26" width="3.5" height="3.5" fill="#333"/>
<rect x="69.43" y="372.74" width="3.5" height="3.5" fill="#333"/>
<rect x="70.87" y="368.52" width="3.5" height="3.5" fill="#333"/>
<rect x="72.94" y="363.74" width="3.5" height="3.5" fill="#333"/>
<rect x="74.34" y="358.27" width="3.5" height="3.5" fill="#333"/>
<rect x="77.07" y="352.2" width="3.5" height="3.5" fill="#333"/>
<rect x="79.84" y="344.34" width="3.5" height="3.5" fill="#333"/>
<rect x="82.57" y="337.91" width="3.5" height="3.5" fill="#333"/>
<rect x="87.1" y="327.55" width="3.5" height="3.5" fill="#333"/>
<rect x="92.27" y="317.55" width="3.5" height="3.5" fill="#333"/>
<rect x="99.65" y="304.69" width="3.5" height="3.5" fill="#333"/>
<rect x="108.51" y="291.48" width="3.5" height="3.5" fill="#333"/>
<rect x="120.68" y="277.19" width="3.5" height="3.5" fill="#333"/>
<rect x="135.44" y="261.83" width="3.5" height="3.5" fill="#333"/>
<rect x="154.26" y="247.54" width="3.5" height="3.5" fill="#333"/>
<rect x="176.03" y="231.11" width="3.5" height="3.5" fill="#333"/>
<circle cx="60.81" cy="397.89" r="2.1" fill="#e8403f"/>
<circle cx="61.09" cy="396.64" r="2.1" fill="#e8403f"/>
<circle cx="61.36" cy="395.39" r="2.1" fill="#e8403f"/>
<circle cx="61.83" cy="394.14" r="2.1" fill="#e8403f"/>
<circle cx="62.29" cy="392.88" r="2.1" fill="#e8403f"/>
<circle cx="62.93" cy="391.63" r="2.1" fill="#e8403f"/>
<circle cx="63.58" cy="390.38" r="2.1" fill="#e8403f"/>
<circle cx="64.5" cy="389.13" r="2.1" fill="#e8403f"/>
<circle cx="65.42" cy="387.88" r="2.1" fill="#e8403f"/>
<circle cx="66.53" cy="386.63" r="2.1" fill="#e8403f"/>
<circle cx="67.64" cy="385.38" r="2.1" fill="#e8403f"/>
<circle cx="68.84" cy="384.22" r="2.1" fill="#e8403f"/>
<circle cx="70.04" cy="383.06" r="2.1" fill="#e8403f"/>
<circle cx="71.14" cy="381.99" r="2.1" fill="#e8403f"/>
<circle cx="72.25" cy="380.92" r="2.1" fill="#e8403f"/>
<circle cx="73.47" cy="379.76" r="2.1" fill="#e8403f"/>
<circle cx="74.69" cy="378.6" r="2.1" fill="#e8403f"/>
<circle cx="76.24" cy="377.53" r="2.1" fill="#e8403f"/>
<circle cx="77.78" cy="376.45" r="2.1" fill="#e8403f"/>
<circle cx="81.47" cy="374.49" r="2.1" fill="#e8403f"/>
<circle cx="84.98" cy="373.24" r="2.1" fill="#e8403f"/>
<circle cx="88.49" cy="372.24" r="2.1" fill="#e8403f"/>
<circle cx="91.99" cy="371.81" r="2.1" fill="#e8403f"/>
<circle cx="95.68" cy="371.99" r="2.1" fill="#e8403f"/>
<circle cx="99.56" cy="372.88" r="2.1" fill="#e8403f"/>
<circle cx="103.98" cy="374.31" r="2.1" fill="#e8403f"/>
<circle cx="108.41" cy="376.45" r="2.1" fill="#e8403f"/>
<polygon points="61.92,396.27 59.76,400.16 64.08,400.16" fill="#2f62b2"/>
<polygon points="63.02,395.2 60.86,399.08 65.19,399.08" fill="#2f62b2"/>
<polygon points="64.5,394.48 62.34,398.37 66.66,398.37" fill="#2f62b2"/>
<polygon points="65.98,394.05 63.82,397.94 68.14,397.94" fill="#2f62b2"/>
<polygon points="67.45,394.37 65.29,398.26 69.61,398.26" fill="#2f62b2"/>
<polygon points="62.66,400.93 60.5,397.04 64.82,397.04" fill="#2bb06d"/>
<polygon points="63.76,399.93 61.6,396.04 65.92,396.04" fill="#2bb06d"/>
<polygon points="64.87,399.5 62.71,395.62 67.03,395.62" fill="#2bb06d"/>
<polygon points="65.98,399.86 63.82,395.97 68.14,395.97" fill="#2bb06d"/>
<polygon points="66.35,400.22 64.19,396.33 68.51,396.33" fill="#2bb06d"/>
<polygon points="61.73,396.44 63.89,398.6 61.73,400.76 59.57,398.6" fill="#8b6db5"/>
<polygon points="62.66,395.55 64.82,397.71 62.66,399.87 60.5,397.71" fill="#8b6db5"/>
<polygon points="63.76,395.08 65.92,397.24 63.76,399.4 61.6,397.24" fill="#8b6db5"/>
<polygon points="64.69,394.83 66.85,396.99 64.69,399.15 62.53,396.99" fill="#8b6db5"/>
<polygon points="65.24,395.08 67.4,397.24 65.24,399.4 63.08,397.24" fill="#8b6db5"/>
<rect x="53.8" y="388.24" width="22.88" height="10.36" fill="none" stroke="#444" stroke-width="0.9" stroke-dasharray="3,2"/>
<line x1="90.9" y1="376.6" x2="111.5" y2="352.6" stroke="#111" stroke-width="0.9" />
<polygon points="113.2,350.6 107.8,353.0 110.6,355.4" fill="#111"/>
<rect x="53.8" y="220.1" width="221.7" height="178.5" fill="none" stroke="#111" stroke-width="1.8"/>
<line x1="49.8" y1="398.6" x2="53.8" y2="398.6" stroke="#111" stroke-width="1.2" />
<line x1="49.8" y1="362.88" x2="53.8" y2="362.88" stroke="#111" stroke-width="1.2" />
<line x1="49.8" y1="327.16" x2="53.8" y2="327.16" stroke="#111" stroke-width="1.2" />
<line x1="49.8" y1="291.44" x2="53.8" y2="291.44" stroke="#111" stroke-width="1.2" />
<line x1="49.8" y1="255.72" x2="53.8" y2="255.72" stroke="#111" stroke-width="1.2" />
<line x1="49.8" y1="220" x2="53.8" y2="220" stroke="#111" stroke-width="1.2" />
<line x1="51.3" y1="380.74" x2="53.8" y2="380.74" stroke="#111" stroke-width="1.2" />
<line x1="51.3" y1="345.02" x2="53.8" y2="345.02" stroke="#111" stroke-width="1.2" />
<line x1="51.3" y1="309.3" x2="53.8" y2="309.3" stroke="#111" stroke-width="1.2" />
<line x1="51.3" y1="273.58" x2="53.8" y2="273.58" stroke="#111" stroke-width="1.2" />
<line x1="51.3" y1="237.86" x2="53.8" y2="237.86" stroke="#111" stroke-width="1.2" />
<line x1="53.8" y1="398.6" x2="53.8" y2="402.6" stroke="#111" stroke-width="1.2" />
<line x1="90.7" y1="398.6" x2="90.7" y2="402.6" stroke="#111" stroke-width="1.2" />
<line x1="127.6" y1="398.6" x2="127.6" y2="402.6" stroke="#111" stroke-width="1.2" />
<line x1="164.5" y1="398.6" x2="164.5" y2="402.6" stroke="#111" stroke-width="1.2" />
<line x1="201.4" y1="398.6" x2="201.4" y2="402.6" stroke="#111" stroke-width="1.2" />
<line x1="238.3" y1="398.6" x2="238.3" y2="402.6" stroke="#111" stroke-width="1.2" />
<line x1="275.2" y1="398.6" x2="275.2" y2="402.6" stroke="#111" stroke-width="1.2" />
<line x1="72.25" y1="398.6" x2="72.25" y2="401.1" stroke="#111" stroke-width="1.2" />
<line x1="109.15" y1="398.6" x2="109.15" y2="401.1" stroke="#111" stroke-width="1.2" />
<line x1="146.05" y1="398.6" x2="146.05" y2="401.1" stroke="#111" stroke-width="1.2" />
<line x1="182.95" y1="398.6" x2="182.95" y2="401.1" stroke="#111" stroke-width="1.2" />
<line x1="219.85" y1="398.6" x2="219.85" y2="401.1" stroke="#111" stroke-width="1.2" />
<line x1="256.75" y1="398.6" x2="256.75" y2="401.1" stroke="#111" stroke-width="1.2" />
<text x="48" y="402.2" font-size="10.5" font-family='"Liberation Serif", serif' font-weight="bold" fill="#111" text-anchor="end"  stroke="#111" stroke-width="0.18">0</text>
<text x="48" y="366.48" font-size="10.5" font-family='"Liberation Serif", serif' font-weight="bold" fill="#111" text-anchor="end"  stroke="#111" stroke-width="0.18">10</text>
<text x="48" y="330.76" font-size="10.5" font-family='"Liberation Serif", serif' font-weight="bold" fill="#111" text-anchor="end"  stroke="#111" stroke-width="0.18">20</text>
<text x="48" y="295.04" font-size="10.5" font-family='"Liberation Serif", serif' font-weight="bold" fill="#111" text-anchor="end"  stroke="#111" stroke-width="0.18">30</text>
<text x="48" y="259.32" font-size="10.5" font-family='"Liberation Serif", serif' font-weight="bold" fill="#111" text-anchor="end"  stroke="#111" stroke-width="0.18">40</text>
<text x="48" y="223.6" font-size="10.5" font-family='"Liberation Serif", serif' font-weight="bold" fill="#111" text-anchor="end"  stroke="#111" stroke-width="0.18">50</text>
<text x="53.8" y="413.2" font-size="10.5" font-family='"Liberation Serif", serif' font-weight="bold" fill="#111" text-anchor="middle"  stroke="#111" stroke-width="0.18">0</text>
<text x="90.7" y="413.2" font-size="10.5" font-family='"Liberation Serif", serif' font-weight="bold" fill="#111" text-anchor="middle"  stroke="#111" stroke-width="0.18">10</text>
<text x="127.6" y="413.2" font-size="10.5" font-family='"Liberation Serif", serif' font-weight="bold" fill="#111" text-anchor="middle"  stroke="#111" stroke-width="0.18">20</text>
<text x="164.5" y="413.2" font-size="10.5" font-family='"Liberation Serif", serif' font-weight="bold" fill="#111" text-anchor="middle"  stroke="#111" stroke-width="0.18">30</text>
<text x="201.4" y="413.2" font-size="10.5" font-family='"Liberation Serif", serif' font-weight="bold" fill="#111" text-anchor="middle"  stroke="#111" stroke-width="0.18">40</text>
<text x="238.3" y="413.2" font-size="10.5" font-family='"Liberation Serif", serif' font-weight="bold" fill="#111" text-anchor="middle"  stroke="#111" stroke-width="0.18">50</text>
<text x="275.2" y="413.2" font-size="10.5" font-family='"Liberation Serif", serif' font-weight="bold" fill="#111" text-anchor="middle"  stroke="#111" stroke-width="0.18">60</text>
<text x="164" y="422.6" font-size="12" font-family='"Liberation Serif", serif' font-weight="bold" fill="#111" text-anchor="middle"  stroke="#111" stroke-width="0.18"><tspan font-style="italic">Z′</tspan> (ohm)</text>
<text x="32.7" y="296" font-size="11.5" font-family='"Liberation Serif", serif' font-weight="bold" fill="#111" text-anchor="middle" transform="rotate(-90 32.7 296)"  stroke="#111" stroke-width="0.18"><tspan font-style="italic">-Z″</tspan> (ohm)</text>
<text x="64" y="239.2" font-size="12" font-family='"Liberation Sans", sans-serif' font-weight="bold" fill="#111" text-anchor="start"  stroke="#111" stroke-width="0.18">d</text>
<line x1="170.1" y1="239.9" x2="184.8" y2="239.9" stroke="#333" stroke-width="1" stroke-opacity="0.6"/>
<rect x="175.55" y="237.95" width="3.9" height="3.9" fill="#333"/>
<text x="190" y="243.4" font-size="9.8" font-family='"Liberation Serif", serif' font-weight="bold" fill="#111" text-anchor="start"  stroke="#111" stroke-width="0.18">NF</text>
<line x1="170.1" y1="252.6" x2="184.8" y2="252.6" stroke="#e8403f" stroke-width="1" stroke-opacity="0.6"/>
<circle cx="177.5" cy="252.6" r="1.95" fill="#e8403f"/>
<text x="190" y="256.1" font-size="9.8" font-family='"Liberation Serif", serif' font-weight="bold" fill="#111" text-anchor="start"  stroke="#111" stroke-width="0.18">NiCo<tspan font-size="6.66" dy="2.74">2</tspan><tspan dy="-2.74">S</tspan><tspan font-size="6.66" dy="2.74">4</tspan><tspan dy="-2.74">/NF</tspan></text>
<line x1="170.1" y1="267.2" x2="184.8" y2="267.2" stroke="#2f62b2" stroke-width="1" stroke-opacity="0.6"/>
<polygon points="177.5,264.67 175.16,268.88 179.84,268.88" fill="#2f62b2"/>
<text x="190" y="270.7" font-size="9.8" font-family='"Liberation Serif", serif' font-weight="bold" fill="#111" text-anchor="start"  stroke="#111" stroke-width="0.18">NiFe-LDH/NF</text>
<line x1="170.1" y1="279.5" x2="184.8" y2="279.5" stroke="#2bb06d" stroke-width="1" stroke-opacity="0.6"/>
<polygon points="177.5,282.03 175.16,277.82 179.84,277.82" fill="#2bb06d"/>
<text x="190" y="283" font-size="9.8" font-family='"Liberation Serif", serif' font-weight="bold" fill="#111" text-anchor="start"  stroke="#111" stroke-width="0.18">NiFeP/NF</text>
<line x1="170.1" y1="291.7" x2="184.8" y2="291.7" stroke="#8b6db5" stroke-width="1" stroke-opacity="0.6"/>
<polygon points="177.5,289.36 179.84,291.7 177.5,294.04 175.16,291.7" fill="#8b6db5"/>
<text x="190" y="295.2" font-size="9.8" font-family='"Liberation Serif", serif' font-weight="bold" fill="#111" text-anchor="start"  stroke="#111" stroke-width="0.18">NiCo<tspan font-size="6.66" dy="2.74">2</tspan><tspan dy="-2.74">S</tspan><tspan font-size="6.66" dy="2.74">4</tspan><tspan dy="-2.74">/NiFeP/NF</tspan></text>
<rect x="137.4" y="299.2" width="101" height="80.5" fill="#fff"/>
<clipPath id="ic"><rect x="137.4" y="299.2" width="101" height="80.5"/></clipPath>
<g clip-path="url(#ic)">
<polyline points="178.5,379.7 179.56,373.38 180.63,367.07 181.7,360.75 182.76,354.44 183.83,348.12 184.9,341.8 185.96,335.49 187.03,329.17 188.1,322.85 189.17,316.54 190.23,310.22 191.3,303.91 192.37,297.59" fill="none" stroke="#222" stroke-width="0.8" stroke-linejoin="round" stroke-linecap="round" />
<rect x="177.25" y="378.45" width="2.5" height="2.5" fill="#222"/>
<rect x="178.31" y="372.13" width="2.5" height="2.5" fill="#222"/>
<rect x="179.38" y="365.82" width="2.5" height="2.5" fill="#222"/>
<rect x="180.45" y="359.5" width="2.5" height="2.5" fill="#222"/>
<rect x="181.51" y="353.19" width="2.5" height="2.5" fill="#222"/>
<rect x="182.58" y="346.87" width="2.5" height="2.5" fill="#222"/>
<rect x="183.65" y="340.55" width="2.5" height="2.5" fill="#222"/>
<rect x="184.71" y="334.24" width="2.5" height="2.5" fill="#222"/>
<rect x="185.78" y="327.92" width="2.5" height="2.5" fill="#222"/>
<rect x="186.85" y="321.6" width="2.5" height="2.5" fill="#222"/>
<rect x="187.92" y="315.29" width="2.5" height="2.5" fill="#222"/>
<rect x="188.98" y="308.97" width="2.5" height="2.5" fill="#222"/>
<rect x="190.05" y="302.66" width="2.5" height="2.5" fill="#222"/>
<rect x="191.12" y="296.34" width="2.5" height="2.5" fill="#222"/>
<polyline points="178.83,379.7 180.08,373.38 181.33,367.07 182.59,360.75 183.84,354.44 185.09,348.12 186.35,341.8 187.6,335.49 188.85,329.17 190.1,322.85 191.36,316.54 192.61,310.22 193.86,303.91 195.11,297.59" fill="none" stroke="#e8403f" stroke-width="0.8" stroke-linejoin="round" stroke-linecap="round" />
<circle cx="178.83" cy="379.7" r="1.25" fill="#e8403f"/>
<circle cx="180.08" cy="373.38" r="1.25" fill="#e8403f"/>
<circle cx="181.33" cy="367.07" r="1.25" fill="#e8403f"/>
<circle cx="182.59" cy="360.75" r="1.25" fill="#e8403f"/>
<circle cx="183.84" cy="354.44" r="1.25" fill="#e8403f"/>
<circle cx="185.09" cy="348.12" r="1.25" fill="#e8403f"/>
<circle cx="186.35" cy="341.8" r="1.25" fill="#e8403f"/>
<circle cx="187.6" cy="335.49" r="1.25" fill="#e8403f"/>
<circle cx="188.85" cy="329.17" r="1.25" fill="#e8403f"/>
<circle cx="190.1" cy="322.85" r="1.25" fill="#e8403f"/>
<circle cx="191.36" cy="316.54" r="1.25" fill="#e8403f"/>
<circle cx="192.61" cy="310.22" r="1.25" fill="#e8403f"/>
<circle cx="193.86" cy="303.91" r="1.25" fill="#e8403f"/>
<circle cx="195.11" cy="297.59" r="1.25" fill="#e8403f"/>
<polyline points="177.6,379.7 179.26,374.87 180.93,370.04 183.43,364.4 185.93,358.77 188.76,353.94 191.59,349.11 194.59,345.49 197.59,341.87 200.43,338.64 203.26,335.42 206.09,333.41 208.93,331.4 211.59,330.39 214.26,329.39 216.76,329.59 219.26,329.79 221.76,331.2 224.26,332.61 226.92,334.82 229.59,337.03" fill="none" stroke="#2f62b2" stroke-width="0.8" stroke-linejoin="round" stroke-linecap="round" />
<polygon points="177.6,378.08 176.1,380.78 179.1,380.78" fill="#2f62b2"/>
<polygon points="179.26,373.25 177.76,375.95 180.76,375.95" fill="#2f62b2"/>
<polygon points="180.93,368.42 179.43,371.12 182.43,371.12" fill="#2f62b2"/>
<polygon points="183.43,362.78 181.93,365.48 184.93,365.48" fill="#2f62b2"/>
<polygon points="185.93,357.15 184.43,359.85 187.43,359.85" fill="#2f62b2"/>
<polygon points="188.76,352.32 187.26,355.02 190.26,355.02" fill="#2f62b2"/>
<polygon points="191.59,347.49 190.09,350.19 193.09,350.19" fill="#2f62b2"/>
<polygon points="194.59,343.87 193.09,346.57 196.09,346.57" fill="#2f62b2"/>
<polygon points="197.59,340.25 196.09,342.94 199.09,342.94" fill="#2f62b2"/>
<polygon points="200.43,337.02 198.93,339.72 201.93,339.72" fill="#2f62b2"/>
<polygon points="203.26,333.8 201.76,336.5 204.76,336.5" fill="#2f62b2"/>
<polygon points="206.09,331.79 204.59,334.49 207.59,334.49" fill="#2f62b2"/>
<polygon points="208.93,329.78 207.43,332.48 210.43,332.48" fill="#2f62b2"/>
<polygon points="211.59,328.77 210.09,331.47 213.09,331.47" fill="#2f62b2"/>
<polygon points="214.26,327.77 212.76,330.47 215.76,330.47" fill="#2f62b2"/>
<polygon points="216.76,327.97 215.26,330.67 218.26,330.67" fill="#2f62b2"/>
<polygon points="219.26,328.17 217.76,330.87 220.76,330.87" fill="#2f62b2"/>
<polygon points="221.76,329.58 220.26,332.28 223.26,332.28" fill="#2f62b2"/>
<polygon points="224.26,330.99 222.76,333.69 225.76,333.69" fill="#2f62b2"/>
<polygon points="226.92,333.2 225.42,335.9 228.42,335.9" fill="#2f62b2"/>
<polygon points="229.59,335.41 228.09,338.11 231.09,338.11" fill="#2f62b2"/>
<polyline points="175.93,379.7 177.6,375.68 179.26,371.65 181.43,366.82 183.6,361.99 185.93,358.37 188.26,354.75 190.59,352.33 192.93,349.91 195.26,347.9 197.59,345.89 199.76,344.68 201.93,343.47 203.43,343.68 204.93,343.88 205.93,345.29 206.93,346.69 207.26,347.9 207.59,349.11" fill="none" stroke="#8b6db5" stroke-width="0.8" stroke-linejoin="round" stroke-linecap="round" />
<polygon points="175.93,378.2 177.43,379.7 175.93,381.2 174.43,379.7" fill="#8b6db5"/>
<polygon points="177.6,374.18 179.1,375.68 177.6,377.18 176.1,375.68" fill="#8b6db5"/>
<polygon points="179.26,370.15 180.76,371.65 179.26,373.15 177.76,371.65" fill="#8b6db5"/>
<polygon points="181.43,365.32 182.93,366.82 181.43,368.32 179.93,366.82" fill="#8b6db5"/>
<polygon points="183.6,360.49 185.1,361.99 183.6,363.49 182.1,361.99" fill="#8b6db5"/>
<polygon points="185.93,356.87 187.43,358.37 185.93,359.87 184.43,358.37" fill="#8b6db5"/>
<polygon points="188.26,353.25 189.76,354.75 188.26,356.25 186.76,354.75" fill="#8b6db5"/>
<polygon points="190.59,350.83 192.09,352.33 190.59,353.83 189.09,352.33" fill="#8b6db5"/>
<polygon points="192.93,348.41 194.43,349.91 192.93,351.41 191.43,349.91" fill="#8b6db5"/>
<polygon points="195.26,346.4 196.76,347.9 195.26,349.4 193.76,347.9" fill="#8b6db5"/>
<polygon points="197.59,344.39 199.09,345.89 197.59,347.39 196.09,345.89" fill="#8b6db5"/>
<polygon points="199.76,343.18 201.26,344.68 199.76,346.18 198.26,344.68" fill="#8b6db5"/>
<polygon points="201.93,341.97 203.43,343.47 201.93,344.97 200.43,343.47" fill="#8b6db5"/>
<polygon points="203.43,342.18 204.93,343.68 203.43,345.18 201.93,343.68" fill="#8b6db5"/>
<polygon points="204.93,342.38 206.43,343.88 204.93,345.38 203.43,343.88" fill="#8b6db5"/>
<polygon points="205.93,343.79 207.43,345.29 205.93,346.79 204.43,345.29" fill="#8b6db5"/>
<polygon points="206.93,345.19 208.43,346.69 206.93,348.19 205.43,346.69" fill="#8b6db5"/>
<polygon points="207.26,346.4 208.76,347.9 207.26,349.4 205.76,347.9" fill="#8b6db5"/>
<polygon points="207.59,347.61 209.09,349.11 207.59,350.61 206.09,349.11" fill="#8b6db5"/>
<polyline points="183.6,379.7 184.76,376.48 185.93,373.26 187.59,369.64 189.26,366.01 191.09,362.39 192.93,358.77 195.26,355.95 197.59,353.13 199.76,351.12 201.93,349.11 203.76,347.9 205.59,346.69 207.26,346.69 208.93,346.69 210.59,347.7 212.26,348.71 213.59,350.92 214.93,353.13 215.93,355.15 216.93,357.16 217.43,359.17 217.93,361.19" fill="none" stroke="#2bb06d" stroke-width="0.8" stroke-linejoin="round" stroke-linecap="round" />
<polygon points="183.6,381.32 182.1,378.62 185.1,378.62" fill="#2bb06d"/>
<polygon points="184.76,378.1 183.26,375.4 186.26,375.4" fill="#2bb06d"/>
<polygon points="185.93,374.88 184.43,372.18 187.43,372.18" fill="#2bb06d"/>
<polygon points="187.59,371.26 186.09,368.56 189.09,368.56" fill="#2bb06d"/>
<polygon points="189.26,367.63 187.76,364.94 190.76,364.94" fill="#2bb06d"/>
<polygon points="191.09,364.01 189.59,361.31 192.59,361.31" fill="#2bb06d"/>
<polygon points="192.93,360.39 191.43,357.69 194.43,357.69" fill="#2bb06d"/>
<polygon points="195.26,357.57 193.76,354.87 196.76,354.87" fill="#2bb06d"/>
<polygon points="197.59,354.75 196.09,352.06 199.09,352.06" fill="#2bb06d"/>
<polygon points="199.76,352.74 198.26,350.04 201.26,350.04" fill="#2bb06d"/>
<polygon points="201.93,350.73 200.43,348.03 203.43,348.03" fill="#2bb06d"/>
<polygon points="203.76,349.52 202.26,346.82 205.26,346.82" fill="#2bb06d"/>
<polygon points="205.59,348.31 204.09,345.62 207.09,345.62" fill="#2bb06d"/>
<polygon points="207.26,348.31 205.76,345.62 208.76,345.62" fill="#2bb06d"/>
<polygon points="208.93,348.31 207.43,345.62 210.43,345.62" fill="#2bb06d"/>
<polygon points="210.59,349.32 209.09,346.62 212.09,346.62" fill="#2bb06d"/>
<polygon points="212.26,350.33 210.76,347.63 213.76,347.63" fill="#2bb06d"/>
<polygon points="213.59,352.54 212.09,349.84 215.09,349.84" fill="#2bb06d"/>
<polygon points="214.93,354.75 213.43,352.06 216.43,352.06" fill="#2bb06d"/>
<polygon points="215.93,356.77 214.43,354.07 217.43,354.07" fill="#2bb06d"/>
<polygon points="216.93,358.78 215.43,356.08 218.43,356.08" fill="#2bb06d"/>
<polygon points="217.43,360.79 215.93,358.09 218.93,358.09" fill="#2bb06d"/>
<polygon points="217.93,362.81 216.43,360.11 219.43,360.11" fill="#2bb06d"/>
</g>
<rect x="137.4" y="299.2" width="101" height="80.5" fill="none" stroke="#222" stroke-width="0.9"/>
<line x1="135.9" y1="379.7" x2="137.4" y2="379.7" stroke="#222" stroke-width="0.6" />
<text x="135.2" y="381.4" font-size="4.9" font-family='"Liberation Sans", sans-serif' font-weight="bold" fill="#222" text-anchor="end" >0.00</text>
<line x1="135.9" y1="359.57" x2="137.4" y2="359.57" stroke="#222" stroke-width="0.6" />
<text x="135.2" y="361.27" font-size="4.9" font-family='"Liberation Sans", sans-serif' font-weight="bold" fill="#222" text-anchor="end" >0.25</text>
<line x1="135.9" y1="339.45" x2="137.4" y2="339.45" stroke="#222" stroke-width="0.6" />
<text x="135.2" y="341.15" font-size="4.9" font-family='"Liberation Sans", sans-serif' font-weight="bold" fill="#222" text-anchor="end" >0.50</text>
<line x1="135.9" y1="319.32" x2="137.4" y2="319.32" stroke="#222" stroke-width="0.6" />
<text x="135.2" y="321.02" font-size="4.9" font-family='"Liberation Sans", sans-serif' font-weight="bold" fill="#222" text-anchor="end" >0.75</text>
<line x1="135.9" y1="299.2" x2="137.4" y2="299.2" stroke="#222" stroke-width="0.6" />
<text x="135.2" y="300.9" font-size="4.9" font-family='"Liberation Sans", sans-serif' font-weight="bold" fill="#222" text-anchor="end" >1.00</text>
<line x1="137.6" y1="379.7" x2="137.6" y2="381.2" stroke="#222" stroke-width="0.6" />
<text x="137.6" y="386.3" font-size="4.9" font-family='"Liberation Sans", sans-serif' font-weight="bold" fill="#222" text-anchor="middle" >1</text>
<line x1="170.93" y1="379.7" x2="170.93" y2="381.2" stroke="#222" stroke-width="0.6" />
<text x="170.93" y="386.3" font-size="4.9" font-family='"Liberation Sans", sans-serif' font-weight="bold" fill="#222" text-anchor="middle" >2</text>
<line x1="204.26" y1="379.7" x2="204.26" y2="381.2" stroke="#222" stroke-width="0.6" />
<text x="204.26" y="386.3" font-size="4.9" font-family='"Liberation Sans", sans-serif' font-weight="bold" fill="#222" text-anchor="middle" >3</text>
<line x1="237.59" y1="379.7" x2="237.59" y2="381.2" stroke="#222" stroke-width="0.6" />
<text x="237.59" y="386.3" font-size="4.9" font-family='"Liberation Sans", sans-serif' font-weight="bold" fill="#222" text-anchor="middle" >4</text>
<text x="188.3" y="389.8" font-size="4.9" font-family='"Liberation Sans", sans-serif' font-weight="bold" fill="#222" text-anchor="middle" >Z″ (ohm)</text>
<text x="123.8" y="339.8" font-size="4.9" font-family='"Liberation Sans", sans-serif' font-weight="bold" fill="#222" text-anchor="middle" transform="rotate(-90 123.8 339.8)" >-Z″ (ohm)</text>
<circle cx="313.35" cy="331.88" r="1.65" fill="#c4ead3" stroke="#2bb06d" stroke-width="1.4"/>
<circle cx="316.52" cy="332.33" r="1.65" fill="#c4ead3" stroke="#2bb06d" stroke-width="1.4"/>
<circle cx="319.69" cy="332.61" r="1.65" fill="#c4ead3" stroke="#2bb06d" stroke-width="1.4"/>
<circle cx="322.86" cy="332.81" r="1.65" fill="#c4ead3" stroke="#2bb06d" stroke-width="1.4"/>
<circle cx="326.04" cy="332.96" r="1.65" fill="#c4ead3" stroke="#2bb06d" stroke-width="1.4"/>
<circle cx="329.21" cy="333.09" r="1.65" fill="#c4ead3" stroke="#2bb06d" stroke-width="1.4"/>
<circle cx="332.38" cy="333.2" r="1.65" fill="#c4ead3" stroke="#2bb06d" stroke-width="1.4"/>
<circle cx="335.55" cy="333.3" r="1.65" fill="#c4ead3" stroke="#2bb06d" stroke-width="1.4"/>
<circle cx="338.73" cy="333.38" r="1.65" fill="#c4ead3" stroke="#2bb06d" stroke-width="1.4"/>
<circle cx="341.9" cy="333.47" r="1.65" fill="#c4ead3" stroke="#2bb06d" stroke-width="1.4"/>
<circle cx="345.07" cy="333.54" r="1.65" fill="#c4ead3" stroke="#2bb06d" stroke-width="1.4"/>
<circle cx="348.24" cy="333.61" r="1.65" fill="#c4ead3" stroke="#2bb06d" stroke-width="1.4"/>
<circle cx="351.42" cy="333.68" r="1.65" fill="#c4ead3" stroke="#2bb06d" stroke-width="1.4"/>
<circle cx="354.59" cy="333.74" r="1.65" fill="#c4ead3" stroke="#2bb06d" stroke-width="1.4"/>
<circle cx="357.76" cy="333.8" r="1.65" fill="#c4ead3" stroke="#2bb06d" stroke-width="1.4"/>
<circle cx="360.93" cy="333.85" r="1.65" fill="#c4ead3" stroke="#2bb06d" stroke-width="1.4"/>
<circle cx="364.11" cy="333.9" r="1.65" fill="#c4ead3" stroke="#2bb06d" stroke-width="1.4"/>
<circle cx="367.28" cy="333.95" r="1.65" fill="#c4ead3" stroke="#2bb06d" stroke-width="1.4"/>
<circle cx="370.45" cy="333.99" r="1.65" fill="#c4ead3" stroke="#2bb06d" stroke-width="1.4"/>
<circle cx="373.62" cy="334.03" r="1.65" fill="#c4ead3" stroke="#2bb06d" stroke-width="1.4"/>
<circle cx="376.79" cy="334.07" r="1.65" fill="#c4ead3" stroke="#2bb06d" stroke-width="1.4"/>
<circle cx="379.97" cy="334.11" r="1.65" fill="#c4ead3" stroke="#2bb06d" stroke-width="1.4"/>
<circle cx="383.14" cy="334.14" r="1.65" fill="#c4ead3" stroke="#2bb06d" stroke-width="1.4"/>
<circle cx="386.31" cy="334.17" r="1.65" fill="#c4ead3" stroke="#2bb06d" stroke-width="1.4"/>
<circle cx="389.48" cy="334.2" r="1.65" fill="#c4ead3" stroke="#2bb06d" stroke-width="1.4"/>
<circle cx="392.66" cy="334.22" r="1.65" fill="#c4ead3" stroke="#2bb06d" stroke-width="1.4"/>
<circle cx="395.83" cy="334.25" r="1.65" fill="#c4ead3" stroke="#2bb06d" stroke-width="1.4"/>
<circle cx="399" cy="334.27" r="1.65" fill="#c4ead3" stroke="#2bb06d" stroke-width="1.4"/>
<circle cx="402.17" cy="334.29" r="1.65" fill="#c4ead3" stroke="#2bb06d" stroke-width="1.4"/>
<circle cx="405.35" cy="334.31" r="1.65" fill="#c4ead3" stroke="#2bb06d" stroke-width="1.4"/>
<circle cx="408.52" cy="334.33" r="1.65" fill="#c4ead3" stroke="#2bb06d" stroke-width="1.4"/>
<circle cx="411.69" cy="334.35" r="1.65" fill="#c4ead3" stroke="#2bb06d" stroke-width="1.4"/>
<circle cx="414.86" cy="334.37" r="1.65" fill="#c4ead3" stroke="#2bb06d" stroke-width="1.4"/>
<circle cx="418.03" cy="334.38" r="1.65" fill="#c4ead3" stroke="#2bb06d" stroke-width="1.4"/>
<circle cx="421.21" cy="334.4" r="1.65" fill="#c4ead3" stroke="#2bb06d" stroke-width="1.4"/>
<circle cx="424.38" cy="334.41" r="1.65" fill="#c4ead3" stroke="#2bb06d" stroke-width="1.4"/>
<circle cx="427.55" cy="334.42" r="1.65" fill="#c4ead3" stroke="#2bb06d" stroke-width="1.4"/>
<circle cx="430.72" cy="334.43" r="1.65" fill="#c4ead3" stroke="#2bb06d" stroke-width="1.4"/>
<circle cx="433.9" cy="334.45" r="1.65" fill="#c4ead3" stroke="#2bb06d" stroke-width="1.4"/>
<circle cx="437.07" cy="334.46" r="1.65" fill="#c4ead3" stroke="#2bb06d" stroke-width="1.4"/>
<circle cx="440.24" cy="334.46" r="1.65" fill="#c4ead3" stroke="#2bb06d" stroke-width="1.4"/>
<circle cx="443.41" cy="334.47" r="1.65" fill="#c4ead3" stroke="#2bb06d" stroke-width="1.4"/>
<circle cx="446.59" cy="334.48" r="1.65" fill="#c4ead3" stroke="#2bb06d" stroke-width="1.4"/>
<circle cx="449.76" cy="334.49" r="1.65" fill="#c4ead3" stroke="#2bb06d" stroke-width="1.4"/>
<circle cx="452.93" cy="334.5" r="1.65" fill="#c4ead3" stroke="#2bb06d" stroke-width="1.4"/>
<circle cx="456.1" cy="334.5" r="1.65" fill="#c4ead3" stroke="#2bb06d" stroke-width="1.4"/>
<circle cx="459.27" cy="334.51" r="1.65" fill="#c4ead3" stroke="#2bb06d" stroke-width="1.4"/>
<circle cx="462.45" cy="334.52" r="1.65" fill="#c4ead3" stroke="#2bb06d" stroke-width="1.4"/>
<circle cx="465.62" cy="334.52" r="1.65" fill="#c4ead3" stroke="#2bb06d" stroke-width="1.4"/>
<circle cx="468.79" cy="334.53" r="1.65" fill="#c4ead3" stroke="#2bb06d" stroke-width="1.4"/>
<circle cx="471.96" cy="334.53" r="1.65" fill="#c4ead3" stroke="#2bb06d" stroke-width="1.4"/>
<circle cx="475.14" cy="334.54" r="1.65" fill="#c4ead3" stroke="#2bb06d" stroke-width="1.4"/>
<circle cx="478.31" cy="334.54" r="1.65" fill="#c4ead3" stroke="#2bb06d" stroke-width="1.4"/>
<circle cx="481.48" cy="334.54" r="1.65" fill="#c4ead3" stroke="#2bb06d" stroke-width="1.4"/>
<circle cx="484.65" cy="334.55" r="1.65" fill="#c4ead3" stroke="#2bb06d" stroke-width="1.4"/>
<circle cx="487.83" cy="334.55" r="1.65" fill="#c4ead3" stroke="#2bb06d" stroke-width="1.4"/>
<circle cx="491" cy="334.55" r="1.65" fill="#c4ead3" stroke="#2bb06d" stroke-width="1.4"/>
<circle cx="494.17" cy="334.56" r="1.65" fill="#c4ead3" stroke="#2bb06d" stroke-width="1.4"/>
<circle cx="497.34" cy="334.56" r="1.65" fill="#c4ead3" stroke="#2bb06d" stroke-width="1.4"/>
<circle cx="500.52" cy="334.56" r="1.65" fill="#c4ead3" stroke="#2bb06d" stroke-width="1.4"/>
<circle cx="503.69" cy="334.56" r="1.65" fill="#c4ead3" stroke="#2bb06d" stroke-width="1.4"/>
<circle cx="506.86" cy="334.57" r="1.65" fill="#c4ead3" stroke="#2bb06d" stroke-width="1.4"/>
<circle cx="510.03" cy="334.57" r="1.65" fill="#c4ead3" stroke="#2bb06d" stroke-width="1.4"/>
<circle cx="513.2" cy="334.57" r="1.65" fill="#c4ead3" stroke="#2bb06d" stroke-width="1.4"/>
<circle cx="516.38" cy="334.57" r="1.65" fill="#c4ead3" stroke="#2bb06d" stroke-width="1.4"/>
<circle cx="519.55" cy="334.57" r="1.65" fill="#c4ead3" stroke="#2bb06d" stroke-width="1.4"/>
<circle cx="522.72" cy="334.57" r="1.65" fill="#c4ead3" stroke="#2bb06d" stroke-width="1.4"/>
<circle cx="525.89" cy="334.58" r="1.65" fill="#c4ead3" stroke="#2bb06d" stroke-width="1.4"/>
<circle cx="529.07" cy="334.58" r="1.65" fill="#c4ead3" stroke="#2bb06d" stroke-width="1.4"/>
<circle cx="311.2" cy="326.2" r="1.7" fill="#2bb06d"/>
<circle cx="312.4" cy="329.9" r="1.7" fill="#2bb06d"/>
<rect x="310.6" y="220.6" width="219.9" height="178.7" fill="none" stroke="#111" stroke-width="1.8"/>
<line x1="306.6" y1="399.3" x2="310.6" y2="399.3" stroke="#111" stroke-width="1.2" />
<line x1="306.6" y1="354.6" x2="310.6" y2="354.6" stroke="#111" stroke-width="1.2" />
<line x1="306.6" y1="309.9" x2="310.6" y2="309.9" stroke="#111" stroke-width="1.2" />
<line x1="306.6" y1="265.2" x2="310.6" y2="265.2" stroke="#111" stroke-width="1.2" />
<line x1="306.6" y1="220.5" x2="310.6" y2="220.5" stroke="#111" stroke-width="1.2" />
<line x1="308.1" y1="376.95" x2="310.6" y2="376.95" stroke="#111" stroke-width="1.2" />
<line x1="308.1" y1="332.25" x2="310.6" y2="332.25" stroke="#111" stroke-width="1.2" />
<line x1="308.1" y1="287.55" x2="310.6" y2="287.55" stroke="#111" stroke-width="1.2" />
<line x1="308.1" y1="242.85" x2="310.6" y2="242.85" stroke="#111" stroke-width="1.2" />
<line x1="310.6" y1="399.3" x2="310.6" y2="403.3" stroke="#111" stroke-width="1.2" />
<line x1="356.4" y1="399.3" x2="356.4" y2="403.3" stroke="#111" stroke-width="1.2" />
<line x1="402.2" y1="399.3" x2="402.2" y2="403.3" stroke="#111" stroke-width="1.2" />
<line x1="448" y1="399.3" x2="448" y2="403.3" stroke="#111" stroke-width="1.2" />
<line x1="493.8" y1="399.3" x2="493.8" y2="403.3" stroke="#111" stroke-width="1.2" />
<line x1="333.5" y1="399.3" x2="333.5" y2="401.8" stroke="#111" stroke-width="1.2" />
<line x1="379.3" y1="399.3" x2="379.3" y2="401.8" stroke="#111" stroke-width="1.2" />
<line x1="425.1" y1="399.3" x2="425.1" y2="401.8" stroke="#111" stroke-width="1.2" />
<line x1="470.9" y1="399.3" x2="470.9" y2="401.8" stroke="#111" stroke-width="1.2" />
<line x1="516.7" y1="399.3" x2="516.7" y2="401.8" stroke="#111" stroke-width="1.2" />
<text x="304" y="402.9" font-size="10.5" font-family='"Liberation Serif", serif' font-weight="bold" fill="#111" text-anchor="end"  stroke="#111" stroke-width="0.18">-20</text>
<text x="304" y="358.2" font-size="10.5" font-family='"Liberation Serif", serif' font-weight="bold" fill="#111" text-anchor="end"  stroke="#111" stroke-width="0.18">0</text>
<text x="304" y="313.5" font-size="10.5" font-family='"Liberation Serif", serif' font-weight="bold" fill="#111" text-anchor="end"  stroke="#111" stroke-width="0.18">20</text>
<text x="304" y="268.8" font-size="10.5" font-family='"Liberation Serif", serif' font-weight="bold" fill="#111" text-anchor="end"  stroke="#111" stroke-width="0.18">40</text>
<text x="304" y="224.1" font-size="10.5" font-family='"Liberation Serif", serif' font-weight="bold" fill="#111" text-anchor="end"  stroke="#111" stroke-width="0.18">60</text>
<text x="310.6" y="414" font-size="10.5" font-family='"Liberation Serif", serif' font-weight="bold" fill="#111" text-anchor="middle"  stroke="#111" stroke-width="0.18">0</text>
<text x="356.4" y="414" font-size="10.5" font-family='"Liberation Serif", serif' font-weight="bold" fill="#111" text-anchor="middle"  stroke="#111" stroke-width="0.18">5</text>
<text x="402.2" y="414" font-size="10.5" font-family='"Liberation Serif", serif' font-weight="bold" fill="#111" text-anchor="middle"  stroke="#111" stroke-width="0.18">10</text>
<text x="448" y="414" font-size="10.5" font-family='"Liberation Serif", serif' font-weight="bold" fill="#111" text-anchor="middle"  stroke="#111" stroke-width="0.18">15</text>
<text x="493.8" y="414" font-size="10.5" font-family='"Liberation Serif", serif' font-weight="bold" fill="#111" text-anchor="middle"  stroke="#111" stroke-width="0.18">20</text>
<text x="414.5" y="425.9" font-size="11.5" font-family='"Liberation Serif", serif' font-weight="bold" fill="#111" text-anchor="middle"  stroke="#111" stroke-width="0.18">Time (h)</text>
<text x="290" y="309.8" font-size="12" font-family='"Liberation Serif", serif' font-weight="bold" fill="#111" text-anchor="middle" transform="rotate(-90 290 309.8)"  stroke="#111" stroke-width="0.18">Current density (mA/cm<tspan font-size="8.16" dy="-4.56">2</tspan><tspan dy="4.56">)</tspan></text>
<text x="512.3" y="240.4" font-size="13" font-family='"Liberation Serif", serif' font-weight="bold" fill="#111" text-anchor="start"  stroke="#111" stroke-width="0.18">e</text>
<line x1="330.9" y1="241.7" x2="349" y2="241.7" stroke="#333" stroke-width="0.9" />
<circle cx="339.8" cy="241.7" r="2.3" fill="#2bb06d"/>
<circle cx="339.5" cy="241.4" r="0.9" fill="#bfe9cf"/>
<text x="351.6" y="245.2" font-size="10.2" font-family='"Liberation Serif", serif' font-weight="bold" fill="#111" text-anchor="start"  stroke="#111" stroke-width="0.18">NiCo<tspan font-size="6.94" dy="2.86">2</tspan><tspan dy="-2.86">S</tspan><tspan font-size="6.94" dy="2.86">4</tspan><tspan dy="-2.86">/NiFeP/NF</tspan></text>
<clipPath id="fc"><rect x="570" y="222.4" width="222.2" height="178.6"/></clipPath>
<g clip-path="url(#fc)">
<rect x="577.38" y="76" width="12" height="325" fill="#3f4144"/>
<rect x="589.23" y="308.38" width="12" height="92.62" fill="#e8484a"/>
<rect x="601.08" y="324.62" width="12" height="76.38" fill="#3266b0"/>
<rect x="612.92" y="331.61" width="12" height="69.39" fill="#2db070"/>
<rect x="624.77" y="344.12" width="12" height="56.88" fill="#8c6fb4"/>
<rect x="651.38" y="76" width="12" height="325" fill="#3f4144"/>
<rect x="663.23" y="313.25" width="12" height="87.75" fill="#e8484a"/>
<rect x="675.08" y="333.56" width="12" height="67.44" fill="#3266b0"/>
<rect x="686.92" y="339.25" width="12" height="61.75" fill="#2db070"/>
<rect x="698.77" y="349" width="12" height="52" fill="#8c6fb4"/>
<rect x="725.67" y="293.75" width="12" height="107.25" fill="#3f4144"/>
<rect x="737.52" y="324.62" width="12" height="76.38" fill="#e8484a"/>
<rect x="749.38" y="340.88" width="12" height="60.12" fill="#3266b0"/>
<rect x="761.22" y="345.75" width="12" height="55.25" fill="#2db070"/>
<rect x="773.07" y="353.39" width="12" height="47.61" fill="#8c6fb4"/>
</g>
<text x="595.15" y="307.18" font-size="8.6" font-family='"Liberation Serif", serif' font-weight="bold" fill="#111" text-anchor="middle"  stroke="#111" stroke-width="0.18">570</text>
<text x="607" y="323.43" font-size="8.6" font-family='"Liberation Serif", serif' font-weight="bold" fill="#111" text-anchor="middle"  stroke="#111" stroke-width="0.18">470</text>
<text x="618.85" y="330.41" font-size="8.6" font-family='"Liberation Serif", serif' font-weight="bold" fill="#111" text-anchor="middle"  stroke="#111" stroke-width="0.18">427</text>
<text x="630.7" y="342.93" font-size="8.6" font-family='"Liberation Serif", serif' font-weight="bold" fill="#111" text-anchor="middle"  stroke="#111" stroke-width="0.18">350</text>
<text x="669.15" y="312.05" font-size="8.6" font-family='"Liberation Serif", serif' font-weight="bold" fill="#111" text-anchor="middle"  stroke="#111" stroke-width="0.18">540</text>
<text x="681" y="332.36" font-size="8.6" font-family='"Liberation Serif", serif' font-weight="bold" fill="#111" text-anchor="middle"  stroke="#111" stroke-width="0.18">415</text>
<text x="692.85" y="338.05" font-size="8.6" font-family='"Liberation Serif", serif' font-weight="bold" fill="#111" text-anchor="middle"  stroke="#111" stroke-width="0.18">380</text>
<text x="704.7" y="347.8" font-size="8.6" font-family='"Liberation Serif", serif' font-weight="bold" fill="#111" text-anchor="middle"  stroke="#111" stroke-width="0.18">320</text>
<text x="731.6" y="292.55" font-size="8.6" font-family='"Liberation Serif", serif' font-weight="bold" fill="#111" text-anchor="middle"  stroke="#111" stroke-width="0.18">660</text>
<text x="743.45" y="323.43" font-size="8.6" font-family='"Liberation Serif", serif' font-weight="bold" fill="#111" text-anchor="middle"  stroke="#111" stroke-width="0.18">470</text>
<text x="755.3" y="339.68" font-size="8.6" font-family='"Liberation Serif", serif' font-weight="bold" fill="#111" text-anchor="middle"  stroke="#111" stroke-width="0.18">370</text>
<text x="767.15" y="344.55" font-size="8.6" font-family='"Liberation Serif", serif' font-weight="bold" fill="#111" text-anchor="middle"  stroke="#111" stroke-width="0.18">340</text>
<text x="779" y="352.19" font-size="8.6" font-family='"Liberation Serif", serif' font-weight="bold" fill="#111" text-anchor="middle"  stroke="#111" stroke-width="0.18">293</text>
<rect x="663.5" y="223.3" width="110" height="64" fill="#fff"/>
<rect x="664.8" y="223.2" width="19.9" height="9.6" fill="#3f4144"/>
<text x="689.7" y="232.2" font-size="10.2" font-family='"Liberation Serif", serif' font-weight="bold" fill="#111" text-anchor="start"  stroke="#111" stroke-width="0.18">NF</text>
<rect x="664.8" y="236" width="19.9" height="10" fill="#e8484a"/>
<text x="689.7" y="244.8" font-size="10.2" font-family='"Liberation Serif", serif' font-weight="bold" fill="#111" text-anchor="start"  stroke="#111" stroke-width="0.18">NiCo<tspan font-size="6.94" dy="2.86">2</tspan><tspan dy="-2.86">S</tspan><tspan font-size="6.94" dy="2.86">4</tspan><tspan dy="-2.86">/NF</tspan></text>
<rect x="664.8" y="250.7" width="19.9" height="10.1" fill="#3266b0"/>
<text x="689.7" y="259.6" font-size="10.2" font-family='"Liberation Serif", serif' font-weight="bold" fill="#111" text-anchor="start"  stroke="#111" stroke-width="0.18">NiFe-LDH/NF</text>
<rect x="664.8" y="263.3" width="19.9" height="10" fill="#2db070"/>
<text x="689.7" y="272.1" font-size="10.2" font-family='"Liberation Serif", serif' font-weight="bold" fill="#111" text-anchor="start"  stroke="#111" stroke-width="0.18">NiFeP/NF</text>
<rect x="664.8" y="275.9" width="19.9" height="10" fill="#8c6fb4"/>
<text x="689.7" y="284.7" font-size="10.2" font-family='"Liberation Serif", serif' font-weight="bold" fill="#111" text-anchor="start"  stroke="#111" stroke-width="0.18">NiCo<tspan font-size="6.94" dy="2.86">2</tspan><tspan dy="-2.86">S</tspan><tspan font-size="6.94" dy="2.86">4</tspan><tspan dy="-2.86">/NiFeP/NF</tspan></text>
<rect x="570" y="222.4" width="222.2" height="178.6" fill="none" stroke="#111" stroke-width="1.8"/>
<line x1="566" y1="401" x2="570" y2="401" stroke="#111" stroke-width="1.2" />
<line x1="566" y1="368.5" x2="570" y2="368.5" stroke="#111" stroke-width="1.2" />
<line x1="566" y1="336" x2="570" y2="336" stroke="#111" stroke-width="1.2" />
<line x1="566" y1="303.5" x2="570" y2="303.5" stroke="#111" stroke-width="1.2" />
<line x1="566" y1="271" x2="570" y2="271" stroke="#111" stroke-width="1.2" />
<line x1="566" y1="238.5" x2="570" y2="238.5" stroke="#111" stroke-width="1.2" />
<line x1="567.5" y1="384.75" x2="570" y2="384.75" stroke="#111" stroke-width="1.2" />
<line x1="567.5" y1="352.25" x2="570" y2="352.25" stroke="#111" stroke-width="1.2" />
<line x1="567.5" y1="319.75" x2="570" y2="319.75" stroke="#111" stroke-width="1.2" />
<line x1="567.5" y1="287.25" x2="570" y2="287.25" stroke="#111" stroke-width="1.2" />
<line x1="567.5" y1="254.75" x2="570" y2="254.75" stroke="#111" stroke-width="1.2" />
<line x1="607" y1="401" x2="607" y2="405" stroke="#111" stroke-width="1.2" />
<line x1="681" y1="401" x2="681" y2="405" stroke="#111" stroke-width="1.2" />
<line x1="755.3" y1="401" x2="755.3" y2="405" stroke="#111" stroke-width="1.2" />
<line x1="570" y1="401" x2="570" y2="403.5" stroke="#111" stroke-width="1.2" />
<line x1="644" y1="401" x2="644" y2="403.5" stroke="#111" stroke-width="1.2" />
<line x1="718" y1="401" x2="718" y2="403.5" stroke="#111" stroke-width="1.2" />
<line x1="792" y1="401" x2="792" y2="403.5" stroke="#111" stroke-width="1.2" />
<text x="564.3" y="404.8" font-size="11.2" font-family='"Liberation Serif", serif' font-weight="bold" fill="#111" text-anchor="end"  stroke="#111" stroke-width="0.18">0</text>
<text x="564.3" y="372.3" font-size="11.2" font-family='"Liberation Serif", serif' font-weight="bold" fill="#111" text-anchor="end"  stroke="#111" stroke-width="0.18">200</text>
<text x="564.3" y="339.8" font-size="11.2" font-family='"Liberation Serif", serif' font-weight="bold" fill="#111" text-anchor="end"  stroke="#111" stroke-width="0.18">400</text>
<text x="564.3" y="307.3" font-size="11.2" font-family='"Liberation Serif", serif' font-weight="bold" fill="#111" text-anchor="end"  stroke="#111" stroke-width="0.18">600</text>
<text x="564.3" y="274.8" font-size="11.2" font-family='"Liberation Serif", serif' font-weight="bold" fill="#111" text-anchor="end"  stroke="#111" stroke-width="0.18">800</text>
<text x="564.3" y="242.3" font-size="11.2" font-family='"Liberation Serif", serif' font-weight="bold" fill="#111" text-anchor="end"  stroke="#111" stroke-width="0.18">1000</text>
<text x="607" y="415.8" font-size="10.5" font-family='"Liberation Serif", serif' font-weight="bold" fill="#111" text-anchor="middle"  stroke="#111" stroke-width="0.18">200</text>
<text x="681" y="415.8" font-size="10.5" font-family='"Liberation Serif", serif' font-weight="bold" fill="#111" text-anchor="middle"  stroke="#111" stroke-width="0.18">150</text>
<text x="755.3" y="415.8" font-size="10.5" font-family='"Liberation Serif", serif' font-weight="bold" fill="#111" text-anchor="middle"  stroke="#111" stroke-width="0.18">100</text>
<text x="677.8" y="424.6" font-size="12" font-family='"Liberation Serif", serif' font-weight="bold" fill="#111" text-anchor="middle"  stroke="#111" stroke-width="0.18">Current density (mA/cm<tspan font-size="8.16" dy="-4.56">2</tspan><tspan dy="4.56">)</tspan></text>
<g transform="rotate(-90 542.6 0)">
<text x="215" y="0" font-size="11.5" font-family='"Liberation Serif", serif' font-weight="normal" font-style="italic" fill="#111">η</text>
</g>
<g transform="rotate(-90 544.6 0)">
<text x="229" y="0" font-size="12.8" font-family='"Liberation Serif", serif' font-weight="bold" font-style="normal" fill="#111">(V)</text>
</g>
<text x="774" y="243.3" font-size="13" font-family='"Liberation Serif", serif' font-weight="bold" fill="#111" text-anchor="start"  stroke="#111" stroke-width="0.18">f</text>
</svg>
</body></html>
